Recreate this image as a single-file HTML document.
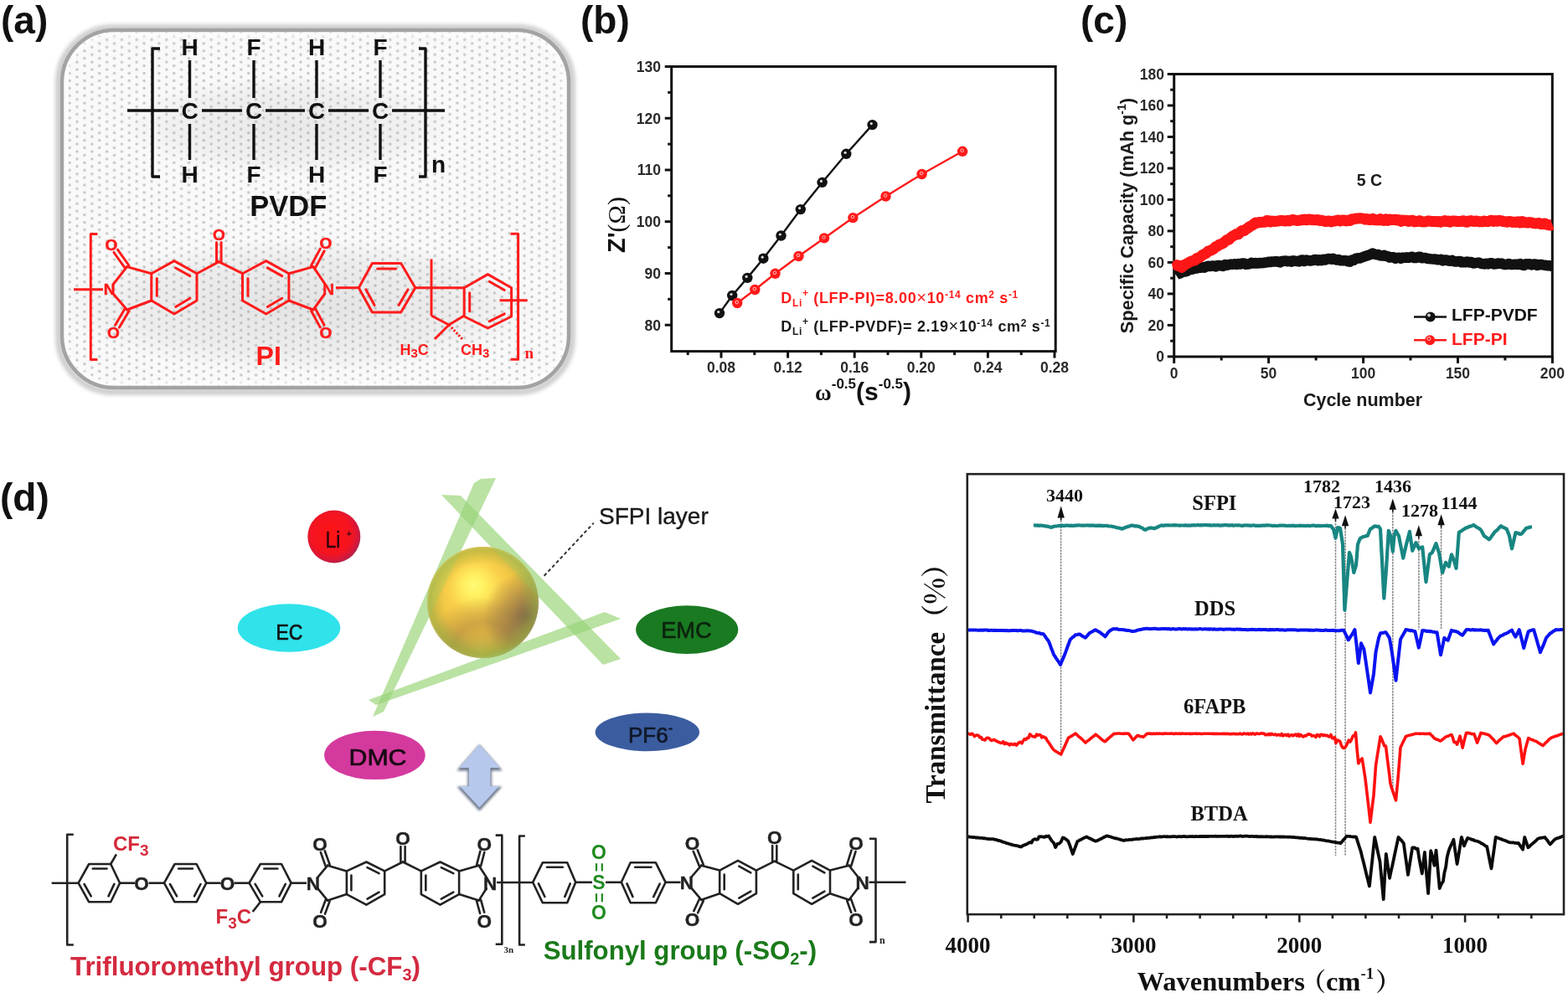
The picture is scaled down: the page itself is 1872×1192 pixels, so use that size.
<!DOCTYPE html>
<html><head><meta charset="utf-8"><title>Figure</title>
<style>html,body{margin:0;padding:0;background:#fff;}svg{display:block;}</style>
</head><body>
<svg width="1872" height="1192" viewBox="0 0 1872 1192">
<defs>
<pattern id="dots" x="1" y="1" width="17.8" height="8.9" patternUnits="userSpaceOnUse">
<rect width="17.8" height="8.9" fill="#f9f9f9"/>
<circle cx="2" cy="2" r="1.7" fill="#c6c6c6"/>
<circle cx="10.9" cy="6.45" r="1.7" fill="#c6c6c6"/>
</pattern>
<radialGradient id="shadeA" cx="0.5" cy="0.5" r="0.5">
<stop offset="0" stop-color="#808080" stop-opacity="0.22"/>
<stop offset="0.7" stop-color="#808080" stop-opacity="0.12"/>
<stop offset="1" stop-color="#808080" stop-opacity="0"/>
</radialGradient>
<filter id="blur2" x="-10%" y="-10%" width="120%" height="120%"><feGaussianBlur stdDeviation="2"/></filter>
<filter id="blur4" x="-20%" y="-20%" width="140%" height="140%"><feGaussianBlur stdDeviation="4"/></filter>
<filter id="blur15" x="-30%" y="-30%" width="160%" height="160%"><feGaussianBlur stdDeviation="1.6"/></filter>
<filter id="blur1"><feGaussianBlur stdDeviation="0.6"/></filter>
<radialGradient id="gold" cx="0.45" cy="0.4" r="0.62" fx="0.42" fy="0.34">
<stop offset="0" stop-color="#fffa78"/>
<stop offset="0.15" stop-color="#fff060"/>
<stop offset="0.38" stop-color="#fad04a"/>
<stop offset="0.62" stop-color="#eec244"/>
<stop offset="0.85" stop-color="#c8b448"/>
<stop offset="1" stop-color="#a8b048"/>
</radialGradient>
<radialGradient id="goldlow" cx="0.5" cy="0.95" r="0.5">
<stop offset="0" stop-color="#a08040" stop-opacity="0.0"/>
<stop offset="0.55" stop-color="#a07a40" stop-opacity="0.45"/>
<stop offset="1" stop-color="#a07a40" stop-opacity="0"/>
</radialGradient>
<radialGradient id="goldshade" cx="0.9" cy="0.62" r="0.4">
<stop offset="0" stop-color="#6a5048" stop-opacity="0.8"/>
<stop offset="0.6" stop-color="#7a5c48" stop-opacity="0.35"/>
<stop offset="1" stop-color="#7a5c48" stop-opacity="0"/>
</radialGradient>
<radialGradient id="goldrim" cx="0.5" cy="0.5" r="0.5">
<stop offset="0.7" stop-color="#98b040" stop-opacity="0"/>
<stop offset="0.95" stop-color="#98b040" stop-opacity="0.5"/>
<stop offset="1" stop-color="#b0c070" stop-opacity="0.4"/>
</radialGradient>
<radialGradient id="liball" cx="0.45" cy="0.45" r="0.55">
<stop offset="0" stop-color="#ff1414"/>
<stop offset="0.7" stop-color="#f41420"/>
<stop offset="0.9" stop-color="#d81838"/>
<stop offset="1" stop-color="#b82048"/>
</radialGradient>
<linearGradient id="arrowg" x1="0" y1="0" x2="1" y2="0">
<stop offset="0" stop-color="#aec4e4"/>
<stop offset="0.5" stop-color="#c4d6ee"/>
<stop offset="1" stop-color="#a8bfe0"/>
</linearGradient>
</defs>

<rect x="0" y="0" width="1872" height="1192" fill="#fff"/>
<text x="1" y="39.7" font-family="'Liberation Sans', Arial, sans-serif" font-size="46" font-weight="bold" fill="#111" text-anchor="start">(a)</text>
<rect x="70" y="33" width="613" height="435" rx="65" fill="none" stroke="#cfcfcf" stroke-width="8" filter="url(#blur2)"/>
<rect x="73.5" y="35.5" width="606" height="428" rx="62" fill="url(#dots)"/>
<ellipse cx="345" cy="150" rx="200" ry="60" fill="url(#shadeA)" opacity="0.6"/>
<ellipse cx="360" cy="365" rx="290" ry="80" fill="url(#shadeA)" opacity="0.8"/>
<rect x="79" y="41" width="594" height="417" rx="56" fill="none" stroke="#ffffff" stroke-opacity="0.55" stroke-width="6"/>
<rect x="74" y="36" width="605" height="427" rx="62" fill="none" stroke="#a3a3a3" stroke-width="4.5"/>
<text x="226.5" y="142" font-family="'Liberation Sans', Arial, sans-serif" font-size="28" font-weight="bold" fill="#111" text-anchor="middle">C</text>
<text x="226.5" y="66" font-family="'Liberation Sans', Arial, sans-serif" font-size="28" font-weight="bold" fill="#111" text-anchor="middle">H</text>
<text x="226.5" y="218" font-family="'Liberation Sans', Arial, sans-serif" font-size="28" font-weight="bold" fill="#111" text-anchor="middle">H</text>
<line x1="226.5" y1="72" x2="226.5" y2="117" stroke="#111" stroke-width="3.4"/>
<line x1="226.5" y1="148" x2="226.5" y2="191" stroke="#111" stroke-width="3.4"/>
<text x="303" y="142" font-family="'Liberation Sans', Arial, sans-serif" font-size="28" font-weight="bold" fill="#111" text-anchor="middle">C</text>
<text x="303" y="66" font-family="'Liberation Sans', Arial, sans-serif" font-size="28" font-weight="bold" fill="#111" text-anchor="middle">F</text>
<text x="303" y="218" font-family="'Liberation Sans', Arial, sans-serif" font-size="28" font-weight="bold" fill="#111" text-anchor="middle">F</text>
<line x1="303" y1="72" x2="303" y2="117" stroke="#111" stroke-width="3.4"/>
<line x1="303" y1="148" x2="303" y2="191" stroke="#111" stroke-width="3.4"/>
<text x="378" y="142" font-family="'Liberation Sans', Arial, sans-serif" font-size="28" font-weight="bold" fill="#111" text-anchor="middle">C</text>
<text x="378" y="66" font-family="'Liberation Sans', Arial, sans-serif" font-size="28" font-weight="bold" fill="#111" text-anchor="middle">H</text>
<text x="378" y="218" font-family="'Liberation Sans', Arial, sans-serif" font-size="28" font-weight="bold" fill="#111" text-anchor="middle">H</text>
<line x1="378" y1="72" x2="378" y2="117" stroke="#111" stroke-width="3.4"/>
<line x1="378" y1="148" x2="378" y2="191" stroke="#111" stroke-width="3.4"/>
<text x="454" y="142" font-family="'Liberation Sans', Arial, sans-serif" font-size="28" font-weight="bold" fill="#111" text-anchor="middle">C</text>
<text x="454" y="66" font-family="'Liberation Sans', Arial, sans-serif" font-size="28" font-weight="bold" fill="#111" text-anchor="middle">F</text>
<text x="454" y="218" font-family="'Liberation Sans', Arial, sans-serif" font-size="28" font-weight="bold" fill="#111" text-anchor="middle">F</text>
<line x1="454" y1="72" x2="454" y2="117" stroke="#111" stroke-width="3.4"/>
<line x1="454" y1="148" x2="454" y2="191" stroke="#111" stroke-width="3.4"/>
<line x1="152" y1="132" x2="213" y2="132" stroke="#111" stroke-width="3.4"/>
<line x1="241" y1="132" x2="289" y2="132" stroke="#111" stroke-width="3.4"/>
<line x1="317" y1="132" x2="364" y2="132" stroke="#111" stroke-width="3.4"/>
<line x1="392" y1="132" x2="440" y2="132" stroke="#111" stroke-width="3.4"/>
<line x1="468" y1="132" x2="531" y2="132" stroke="#111" stroke-width="3.4"/>
<polyline points="191,58 182,58 182,211 191,211" fill="none" stroke="#111" stroke-width="3.4" stroke-linejoin="round"/>
<polyline points="500,58 508,58 508,211 500,211" fill="none" stroke="#111" stroke-width="3.4" stroke-linejoin="round"/>
<text x="515" y="206" font-family="'Liberation Sans', Arial, sans-serif" font-size="28" font-weight="bold" fill="#111" text-anchor="start">n</text>
<text x="344.3" y="258" font-family="'Liberation Sans', Arial, sans-serif" font-size="34.5" font-weight="bold" fill="#111" text-anchor="middle">PVDF</text>
<polyline points="116.4,279.4 108.3,279.4 108.3,429.4 116.4,429.4" fill="none" stroke="#ff1b1b" stroke-width="3.0" stroke-linejoin="round"/>
<line x1="88" y1="345.8" x2="123" y2="345.8" stroke="#ff1b1b" stroke-width="3.0"/>
<text x="130.5" y="352.3" font-family="'Liberation Sans', Arial, sans-serif" font-size="19" font-weight="bold" fill="#ff1b1b" text-anchor="middle" stroke="#ff1b1b" stroke-width="0.5">N</text>
<line x1="135.4" y1="339.2" x2="151.6" y2="318.6" stroke="#ff1b1b" stroke-width="3.0" stroke-linecap="round"/>
<line x1="135.7" y1="351.6" x2="151.6" y2="370" stroke="#ff1b1b" stroke-width="3.0" stroke-linecap="round"/>
<line x1="151.6" y1="318.6" x2="180.8" y2="326.7" stroke="#ff1b1b" stroke-width="3.0" stroke-linecap="round"/>
<line x1="151.6" y1="370" x2="180.8" y2="359" stroke="#ff1b1b" stroke-width="3.0" stroke-linecap="round"/>
<text x="133" y="299.3" font-family="'Liberation Sans', Arial, sans-serif" font-size="19" font-weight="bold" fill="#ff1b1b" text-anchor="middle" stroke="#ff1b1b" stroke-width="0.5">O</text>
<text x="135.5" y="404.3" font-family="'Liberation Sans', Arial, sans-serif" font-size="19" font-weight="bold" fill="#ff1b1b" text-anchor="middle" stroke="#ff1b1b" stroke-width="0.5">O</text>
<line x1="153.9" y1="317" x2="140.5" y2="298.2" stroke="#ff1b1b" stroke-width="3.0" stroke-linecap="round"/>
<line x1="149.3" y1="320.2" x2="135.9" y2="301.5" stroke="#ff1b1b" stroke-width="3.0" stroke-linecap="round"/>
<line x1="149.2" y1="368.6" x2="137.6" y2="388.3" stroke="#ff1b1b" stroke-width="3.0" stroke-linecap="round"/>
<line x1="154" y1="371.4" x2="142.5" y2="391.1" stroke="#ff1b1b" stroke-width="3.0" stroke-linecap="round"/>
<polygon points="180.8,326.7 208,311.6 235,326.7 235,359 208,375 180.8,359" fill="none" stroke="#ff1b1b" stroke-width="3.0" stroke-linejoin="round"/>
<line x1="209.6" y1="320" x2="226.9" y2="329.6" stroke="#ff1b1b" stroke-width="3.0" stroke-linecap="round"/>
<line x1="226.9" y1="356.2" x2="209.7" y2="366.5" stroke="#ff1b1b" stroke-width="3.0" stroke-linecap="round"/>
<line x1="187.3" y1="353.2" x2="187.3" y2="332.5" stroke="#ff1b1b" stroke-width="3.0" stroke-linecap="round"/>
<line x1="235" y1="326.7" x2="261.3" y2="312.6" stroke="#ff1b1b" stroke-width="3.0" stroke-linecap="round"/>
<line x1="261.3" y1="312.6" x2="289.5" y2="326.7" stroke="#ff1b1b" stroke-width="3.0" stroke-linecap="round"/>
<line x1="264.1" y1="312.6" x2="264.1" y2="289.4" stroke="#ff1b1b" stroke-width="3.0" stroke-linecap="round"/>
<line x1="258.5" y1="312.6" x2="258.5" y2="289.4" stroke="#ff1b1b" stroke-width="3.0" stroke-linecap="round"/>
<text x="261.3" y="287.2" font-family="'Liberation Sans', Arial, sans-serif" font-size="19" font-weight="bold" fill="#ff1b1b" text-anchor="middle" stroke="#ff1b1b" stroke-width="0.5">O</text>
<polygon points="289.5,326.7 317.7,311.6 344.9,326.7 344.9,359 317.7,375 289.5,359" fill="none" stroke="#ff1b1b" stroke-width="3.0" stroke-linejoin="round"/>
<line x1="319.3" y1="319.9" x2="336.7" y2="329.6" stroke="#ff1b1b" stroke-width="3.0" stroke-linecap="round"/>
<line x1="336.7" y1="356.3" x2="319.3" y2="366.5" stroke="#ff1b1b" stroke-width="3.0" stroke-linecap="round"/>
<line x1="296" y1="353.2" x2="296" y2="332.5" stroke="#ff1b1b" stroke-width="3.0" stroke-linecap="round"/>
<line x1="344.9" y1="326.7" x2="374" y2="318.6" stroke="#ff1b1b" stroke-width="3.0" stroke-linecap="round"/>
<line x1="344.9" y1="359" x2="374" y2="370" stroke="#ff1b1b" stroke-width="3.0" stroke-linecap="round"/>
<line x1="374" y1="318.6" x2="387.5" y2="338.4" stroke="#ff1b1b" stroke-width="3.0" stroke-linecap="round"/>
<line x1="374" y1="370" x2="387.3" y2="351.5" stroke="#ff1b1b" stroke-width="3.0" stroke-linecap="round"/>
<text x="392" y="351.8" font-family="'Liberation Sans', Arial, sans-serif" font-size="19" font-weight="bold" fill="#ff1b1b" text-anchor="middle" stroke="#ff1b1b" stroke-width="0.5">N</text>
<text x="389" y="297.3" font-family="'Liberation Sans', Arial, sans-serif" font-size="19" font-weight="bold" fill="#ff1b1b" text-anchor="middle" stroke="#ff1b1b" stroke-width="0.5">O</text>
<text x="389" y="404.3" font-family="'Liberation Sans', Arial, sans-serif" font-size="19" font-weight="bold" fill="#ff1b1b" text-anchor="middle" stroke="#ff1b1b" stroke-width="0.5">O</text>
<line x1="376.5" y1="319.9" x2="387.2" y2="299.8" stroke="#ff1b1b" stroke-width="3.0" stroke-linecap="round"/>
<line x1="371.5" y1="317.3" x2="382.3" y2="297.1" stroke="#ff1b1b" stroke-width="3.0" stroke-linecap="round"/>
<line x1="371.5" y1="371.3" x2="382.2" y2="390.9" stroke="#ff1b1b" stroke-width="3.0" stroke-linecap="round"/>
<line x1="376.5" y1="368.7" x2="387.1" y2="388.3" stroke="#ff1b1b" stroke-width="3.0" stroke-linecap="round"/>
<line x1="401" y1="343.7" x2="428.3" y2="343.7" stroke="#ff1b1b" stroke-width="3.0"/>
<polygon points="428.3,343.7 444.4,314.5 478.7,314.5 495.8,343.7 478.7,373 444.4,373" fill="none" stroke="#ff1b1b" stroke-width="3.0" stroke-linejoin="round"/>
<line x1="450.6" y1="321" x2="472.6" y2="321" stroke="#ff1b1b" stroke-width="3.0" stroke-linecap="round"/>
<line x1="487.1" y1="345.7" x2="476.1" y2="364.5" stroke="#ff1b1b" stroke-width="3.0" stroke-linecap="round"/>
<line x1="447.1" y1="364.5" x2="436.8" y2="345.7" stroke="#ff1b1b" stroke-width="3.0" stroke-linecap="round"/>
<line x1="495.8" y1="343.7" x2="554.2" y2="343.7" stroke="#ff1b1b" stroke-width="3.0"/>
<line x1="515" y1="309.5" x2="515" y2="377" stroke="#ff1b1b" stroke-width="3.0"/>
<polyline points="515,377 536,388 554.2,377" fill="none" stroke="#ff1b1b" stroke-width="3.0" stroke-linejoin="round"/>
<polygon points="554.2,343.7 582.4,327.6 610.6,343.7 610.6,378 582.4,392 554.2,378" fill="none" stroke="#ff1b1b" stroke-width="3.0" stroke-linejoin="round"/>
<line x1="584.3" y1="336.2" x2="602.3" y2="346.5" stroke="#ff1b1b" stroke-width="3.0" stroke-linecap="round"/>
<line x1="602.3" y1="374.9" x2="584.2" y2="383.8" stroke="#ff1b1b" stroke-width="3.0" stroke-linecap="round"/>
<line x1="560.7" y1="371.7" x2="560.7" y2="349.8" stroke="#ff1b1b" stroke-width="3.0" stroke-linecap="round"/>
<line x1="596.5" y1="358.8" x2="629.7" y2="358.8" stroke="#ff1b1b" stroke-width="3.0"/>
<line x1="536" y1="388" x2="519" y2="405" stroke="#ff1b1b" stroke-width="3.0"/>
<line x1="536" y1="388" x2="552" y2="405" stroke="#ff1b1b" stroke-width="3" stroke-dasharray="2.2,2"/>
<text x="477.5" y="424" font-family="'Liberation Sans', Arial, sans-serif" font-size="18" font-weight="bold" fill="#ff1b1b">H<tspan font-size="15" dy="3">3</tspan><tspan dy="-3">C</tspan></text>
<text x="550" y="424" font-family="'Liberation Sans', Arial, sans-serif" font-size="18" font-weight="bold" fill="#ff1b1b">CH<tspan font-size="15" dy="3">3</tspan></text>
<polyline points="609.6,279.3 618.6,279.3 618.6,429.3 609.6,429.3" fill="none" stroke="#ff1b1b" stroke-width="3.0" stroke-linejoin="round"/>
<text x="626.5" y="427.5" font-family="'Liberation Serif', 'Times New Roman', serif" font-size="19" font-weight="bold" fill="#ff1b1b" text-anchor="start">n</text>
<text x="320.7" y="436.4" font-family="'Liberation Sans', Arial, sans-serif" font-size="32" font-weight="bold" fill="#ff1b1b" text-anchor="middle">PI</text>
<text x="693" y="39.7" font-family="'Liberation Sans', Arial, sans-serif" font-size="46" font-weight="bold" fill="#111" text-anchor="start">(b)</text>
<rect x="801.7" y="79.5" width="458.5" height="340.1" fill="none" stroke="#111" stroke-width="3"/>
<line x1="793.7" y1="388.2" x2="801.7" y2="388.2" stroke="#111" stroke-width="3"/>
<text x="789" y="394.5" font-family="'Liberation Sans', Arial, sans-serif" font-size="17.5" font-weight="bold" fill="#2a2a2a" text-anchor="end">80</text>
<line x1="793.7" y1="326.5" x2="801.7" y2="326.5" stroke="#111" stroke-width="3"/>
<text x="789" y="332.8" font-family="'Liberation Sans', Arial, sans-serif" font-size="17.5" font-weight="bold" fill="#2a2a2a" text-anchor="end">90</text>
<line x1="793.7" y1="264.7" x2="801.7" y2="264.7" stroke="#111" stroke-width="3"/>
<text x="789" y="271" font-family="'Liberation Sans', Arial, sans-serif" font-size="17.5" font-weight="bold" fill="#2a2a2a" text-anchor="end">100</text>
<line x1="793.7" y1="203" x2="801.7" y2="203" stroke="#111" stroke-width="3"/>
<text x="789" y="209.3" font-family="'Liberation Sans', Arial, sans-serif" font-size="17.5" font-weight="bold" fill="#2a2a2a" text-anchor="end">110</text>
<line x1="793.7" y1="141.2" x2="801.7" y2="141.2" stroke="#111" stroke-width="3"/>
<text x="789" y="147.5" font-family="'Liberation Sans', Arial, sans-serif" font-size="17.5" font-weight="bold" fill="#2a2a2a" text-anchor="end">120</text>
<line x1="793.7" y1="79.5" x2="801.7" y2="79.5" stroke="#111" stroke-width="3"/>
<text x="789" y="85.8" font-family="'Liberation Sans', Arial, sans-serif" font-size="17.5" font-weight="bold" fill="#2a2a2a" text-anchor="end">130</text>
<line x1="797.2" y1="357.3" x2="801.7" y2="357.3" stroke="#111" stroke-width="3"/>
<line x1="797.2" y1="295.6" x2="801.7" y2="295.6" stroke="#111" stroke-width="3"/>
<line x1="797.2" y1="233.8" x2="801.7" y2="233.8" stroke="#111" stroke-width="3"/>
<line x1="797.2" y1="172.1" x2="801.7" y2="172.1" stroke="#111" stroke-width="3"/>
<line x1="797.2" y1="110.4" x2="801.7" y2="110.4" stroke="#111" stroke-width="3"/>
<line x1="861" y1="419.6" x2="861" y2="427.6" stroke="#111" stroke-width="3"/>
<text x="861" y="445" font-family="'Liberation Sans', Arial, sans-serif" font-size="17.5" font-weight="bold" fill="#2a2a2a" text-anchor="middle">0.08</text>
<line x1="940.6" y1="419.6" x2="940.6" y2="427.6" stroke="#111" stroke-width="3"/>
<text x="940.6" y="445" font-family="'Liberation Sans', Arial, sans-serif" font-size="17.5" font-weight="bold" fill="#2a2a2a" text-anchor="middle">0.12</text>
<line x1="1020.2" y1="419.6" x2="1020.2" y2="427.6" stroke="#111" stroke-width="3"/>
<text x="1020.2" y="445" font-family="'Liberation Sans', Arial, sans-serif" font-size="17.5" font-weight="bold" fill="#2a2a2a" text-anchor="middle">0.16</text>
<line x1="1099.8" y1="419.6" x2="1099.8" y2="427.6" stroke="#111" stroke-width="3"/>
<text x="1099.8" y="445" font-family="'Liberation Sans', Arial, sans-serif" font-size="17.5" font-weight="bold" fill="#2a2a2a" text-anchor="middle">0.20</text>
<line x1="1179.4" y1="419.6" x2="1179.4" y2="427.6" stroke="#111" stroke-width="3"/>
<text x="1179.4" y="445" font-family="'Liberation Sans', Arial, sans-serif" font-size="17.5" font-weight="bold" fill="#2a2a2a" text-anchor="middle">0.24</text>
<line x1="1259" y1="419.6" x2="1259" y2="427.6" stroke="#111" stroke-width="3"/>
<text x="1259" y="445" font-family="'Liberation Sans', Arial, sans-serif" font-size="17.5" font-weight="bold" fill="#2a2a2a" text-anchor="middle">0.28</text>
<line x1="821.2" y1="419.6" x2="821.2" y2="424.1" stroke="#111" stroke-width="3"/>
<line x1="900.8" y1="419.6" x2="900.8" y2="424.1" stroke="#111" stroke-width="3"/>
<line x1="980.4" y1="419.6" x2="980.4" y2="424.1" stroke="#111" stroke-width="3"/>
<line x1="1060" y1="419.6" x2="1060" y2="424.1" stroke="#111" stroke-width="3"/>
<line x1="1139.6" y1="419.6" x2="1139.6" y2="424.1" stroke="#111" stroke-width="3"/>
<line x1="1219.2" y1="419.6" x2="1219.2" y2="424.1" stroke="#111" stroke-width="3"/>
<polyline points="859,374.1 874.2,353 892.3,331.9 911.4,308.7 932.5,281.5 955.8,250.1 981.6,217.9 1010.3,183.8 1041.5,149.1" fill="none" stroke="#111" stroke-width="2.4" stroke-linejoin="round"/>
<polyline points="880.2,362 901.3,346 925.5,326.8 953.5,306 984,284.4 1018.4,260.1 1057.5,234.5 1100.6,208 1149.1,180.8" fill="none" stroke="#ff1a1a" stroke-width="2.4" stroke-linejoin="round"/>
<circle cx="859" cy="374.1" r="6.2" fill="#111"/>
<circle cx="857.8" cy="372.6" r="1.6" fill="#ddd"/>
<circle cx="874.2" cy="353" r="6.2" fill="#111"/>
<circle cx="873" cy="351.5" r="1.6" fill="#ddd"/>
<circle cx="892.3" cy="331.9" r="6.2" fill="#111"/>
<circle cx="891.1" cy="330.4" r="1.6" fill="#ddd"/>
<circle cx="911.4" cy="308.7" r="6.2" fill="#111"/>
<circle cx="910.2" cy="307.2" r="1.6" fill="#ddd"/>
<circle cx="932.5" cy="281.5" r="6.2" fill="#111"/>
<circle cx="931.3" cy="280" r="1.6" fill="#ddd"/>
<circle cx="955.8" cy="250.1" r="6.2" fill="#111"/>
<circle cx="954.6" cy="248.6" r="1.6" fill="#ddd"/>
<circle cx="981.6" cy="217.9" r="6.2" fill="#111"/>
<circle cx="980.4" cy="216.4" r="1.6" fill="#ddd"/>
<circle cx="1010.3" cy="183.8" r="6.2" fill="#111"/>
<circle cx="1009.1" cy="182.3" r="1.6" fill="#ddd"/>
<circle cx="1041.5" cy="149.1" r="6.2" fill="#111"/>
<circle cx="1040.3" cy="147.6" r="1.6" fill="#ddd"/>
<circle cx="880.2" cy="362" r="6.2" fill="#ff1a1a"/>
<circle cx="879.7" cy="361" r="1.8" fill="none" stroke="#ffc0c0" stroke-width="1"/>
<circle cx="901.3" cy="346" r="6.2" fill="#ff1a1a"/>
<circle cx="900.8" cy="345" r="1.8" fill="none" stroke="#ffc0c0" stroke-width="1"/>
<circle cx="925.5" cy="326.8" r="6.2" fill="#ff1a1a"/>
<circle cx="925" cy="325.8" r="1.8" fill="none" stroke="#ffc0c0" stroke-width="1"/>
<circle cx="953.5" cy="306" r="6.2" fill="#ff1a1a"/>
<circle cx="953" cy="305" r="1.8" fill="none" stroke="#ffc0c0" stroke-width="1"/>
<circle cx="984" cy="284.4" r="6.2" fill="#ff1a1a"/>
<circle cx="983.5" cy="283.4" r="1.8" fill="none" stroke="#ffc0c0" stroke-width="1"/>
<circle cx="1018.4" cy="260.1" r="6.2" fill="#ff1a1a"/>
<circle cx="1017.9" cy="259.1" r="1.8" fill="none" stroke="#ffc0c0" stroke-width="1"/>
<circle cx="1057.5" cy="234.5" r="6.2" fill="#ff1a1a"/>
<circle cx="1057" cy="233.5" r="1.8" fill="none" stroke="#ffc0c0" stroke-width="1"/>
<circle cx="1100.6" cy="208" r="6.2" fill="#ff1a1a"/>
<circle cx="1100.1" cy="207" r="1.8" fill="none" stroke="#ffc0c0" stroke-width="1"/>
<circle cx="1149.1" cy="180.8" r="6.2" fill="#ff1a1a"/>
<circle cx="1148.6" cy="179.8" r="1.8" fill="none" stroke="#ffc0c0" stroke-width="1"/>
<text x="932.3" y="361.7" font-family="'Liberation Sans', Arial, sans-serif" font-size="18" font-weight="bold" fill="#ff1a1a" textLength="283" lengthAdjust="spacing">D<tspan font-size="12" dy="4">Li</tspan><tspan font-size="12" dy="-12">+</tspan><tspan dy="8"> (LFP-PI)=8.00</tspan><tspan font-weight="normal" font-size="20">×</tspan>10<tspan font-size="12" dy="-6">-14</tspan><tspan dy="6"> cm</tspan><tspan font-size="12" dy="-6">2</tspan><tspan dy="6"> s</tspan><tspan font-size="12" dy="-6">-1</tspan></text>
<text x="932.3" y="396.2" font-family="'Liberation Sans', Arial, sans-serif" font-size="18" font-weight="bold" fill="#1a1a1a" textLength="321.5" lengthAdjust="spacing">D<tspan font-size="12" dy="4">Li</tspan><tspan font-size="12" dy="-12">+</tspan><tspan dy="8"> (LFP-PVDF)= 2.19</tspan><tspan font-weight="normal" font-size="20">×</tspan>10<tspan font-size="12" dy="-6">-14</tspan><tspan dy="6"> cm</tspan><tspan font-size="12" dy="-6">2</tspan><tspan dy="6"> s</tspan><tspan font-size="12" dy="-6">-1</tspan></text>
<text transform="translate(746,302) rotate(-90)" font-family="'Liberation Sans', Arial, sans-serif" font-size="29" font-weight="bold" fill="#111">Z'<tspan font-family="'Liberation Serif', 'Times New Roman', serif" font-weight="normal" font-size="30">(Ω)</tspan></text>
<text x="973" y="478.3" font-family="'Liberation Sans', Arial, sans-serif" font-size="30" font-weight="bold" fill="#111"><tspan font-family="'Liberation Serif', 'Times New Roman', serif" font-size="27">ω</tspan><tspan font-size="17" dy="-14">-0.5</tspan><tspan dy="14">(s</tspan><tspan font-size="17" dy="-14">-0.5</tspan><tspan dy="14">)</tspan></text>
<text x="1290" y="39.7" font-family="'Liberation Sans', Arial, sans-serif" font-size="46" font-weight="bold" fill="#111" text-anchor="start">(c)</text>
<rect x="1401.7" y="88.5" width="451.6" height="337.5" fill="none" stroke="#111" stroke-width="3"/>
<line x1="1393.7" y1="425.9" x2="1401.7" y2="425.9" stroke="#111" stroke-width="3"/>
<text x="1390" y="432.2" font-family="'Liberation Sans', Arial, sans-serif" font-size="17.5" font-weight="bold" fill="#2a2a2a" text-anchor="end">0</text>
<line x1="1393.7" y1="388.4" x2="1401.7" y2="388.4" stroke="#111" stroke-width="3"/>
<text x="1390" y="394.7" font-family="'Liberation Sans', Arial, sans-serif" font-size="17.5" font-weight="bold" fill="#2a2a2a" text-anchor="end">20</text>
<line x1="1393.7" y1="350.9" x2="1401.7" y2="350.9" stroke="#111" stroke-width="3"/>
<text x="1390" y="357.2" font-family="'Liberation Sans', Arial, sans-serif" font-size="17.5" font-weight="bold" fill="#2a2a2a" text-anchor="end">40</text>
<line x1="1393.7" y1="313.4" x2="1401.7" y2="313.4" stroke="#111" stroke-width="3"/>
<text x="1390" y="319.7" font-family="'Liberation Sans', Arial, sans-serif" font-size="17.5" font-weight="bold" fill="#2a2a2a" text-anchor="end">60</text>
<line x1="1393.7" y1="275.9" x2="1401.7" y2="275.9" stroke="#111" stroke-width="3"/>
<text x="1390" y="282.2" font-family="'Liberation Sans', Arial, sans-serif" font-size="17.5" font-weight="bold" fill="#2a2a2a" text-anchor="end">80</text>
<line x1="1393.7" y1="238.4" x2="1401.7" y2="238.4" stroke="#111" stroke-width="3"/>
<text x="1390" y="244.7" font-family="'Liberation Sans', Arial, sans-serif" font-size="17.5" font-weight="bold" fill="#2a2a2a" text-anchor="end">100</text>
<line x1="1393.7" y1="201" x2="1401.7" y2="201" stroke="#111" stroke-width="3"/>
<text x="1390" y="207.3" font-family="'Liberation Sans', Arial, sans-serif" font-size="17.5" font-weight="bold" fill="#2a2a2a" text-anchor="end">120</text>
<line x1="1393.7" y1="163.5" x2="1401.7" y2="163.5" stroke="#111" stroke-width="3"/>
<text x="1390" y="169.8" font-family="'Liberation Sans', Arial, sans-serif" font-size="17.5" font-weight="bold" fill="#2a2a2a" text-anchor="end">140</text>
<line x1="1393.7" y1="126" x2="1401.7" y2="126" stroke="#111" stroke-width="3"/>
<text x="1390" y="132.3" font-family="'Liberation Sans', Arial, sans-serif" font-size="17.5" font-weight="bold" fill="#2a2a2a" text-anchor="end">160</text>
<line x1="1393.7" y1="88.5" x2="1401.7" y2="88.5" stroke="#111" stroke-width="3"/>
<text x="1390" y="94.8" font-family="'Liberation Sans', Arial, sans-serif" font-size="17.5" font-weight="bold" fill="#2a2a2a" text-anchor="end">180</text>
<line x1="1397.2" y1="407.2" x2="1401.7" y2="407.2" stroke="#111" stroke-width="3"/>
<line x1="1397.2" y1="369.7" x2="1401.7" y2="369.7" stroke="#111" stroke-width="3"/>
<line x1="1397.2" y1="332.2" x2="1401.7" y2="332.2" stroke="#111" stroke-width="3"/>
<line x1="1397.2" y1="294.7" x2="1401.7" y2="294.7" stroke="#111" stroke-width="3"/>
<line x1="1397.2" y1="257.2" x2="1401.7" y2="257.2" stroke="#111" stroke-width="3"/>
<line x1="1397.2" y1="219.7" x2="1401.7" y2="219.7" stroke="#111" stroke-width="3"/>
<line x1="1397.2" y1="182.2" x2="1401.7" y2="182.2" stroke="#111" stroke-width="3"/>
<line x1="1397.2" y1="144.7" x2="1401.7" y2="144.7" stroke="#111" stroke-width="3"/>
<line x1="1397.2" y1="107.2" x2="1401.7" y2="107.2" stroke="#111" stroke-width="3"/>
<line x1="1401.7" y1="426" x2="1401.7" y2="434" stroke="#111" stroke-width="3"/>
<text x="1401.7" y="452" font-family="'Liberation Sans', Arial, sans-serif" font-size="17.5" font-weight="bold" fill="#2a2a2a" text-anchor="middle">0</text>
<line x1="1514.6" y1="426" x2="1514.6" y2="434" stroke="#111" stroke-width="3"/>
<text x="1514.6" y="452" font-family="'Liberation Sans', Arial, sans-serif" font-size="17.5" font-weight="bold" fill="#2a2a2a" text-anchor="middle">50</text>
<line x1="1627.6" y1="426" x2="1627.6" y2="434" stroke="#111" stroke-width="3"/>
<text x="1627.6" y="452" font-family="'Liberation Sans', Arial, sans-serif" font-size="17.5" font-weight="bold" fill="#2a2a2a" text-anchor="middle">100</text>
<line x1="1740.5" y1="426" x2="1740.5" y2="434" stroke="#111" stroke-width="3"/>
<text x="1740.5" y="452" font-family="'Liberation Sans', Arial, sans-serif" font-size="17.5" font-weight="bold" fill="#2a2a2a" text-anchor="middle">150</text>
<line x1="1853.4" y1="426" x2="1853.4" y2="434" stroke="#111" stroke-width="3"/>
<text x="1853.4" y="452" font-family="'Liberation Sans', Arial, sans-serif" font-size="17.5" font-weight="bold" fill="#2a2a2a" text-anchor="middle">200</text>
<line x1="1458.2" y1="426" x2="1458.2" y2="430.5" stroke="#111" stroke-width="3"/>
<line x1="1571.1" y1="426" x2="1571.1" y2="430.5" stroke="#111" stroke-width="3"/>
<line x1="1684" y1="426" x2="1684" y2="430.5" stroke="#111" stroke-width="3"/>
<line x1="1796.9" y1="426" x2="1796.9" y2="430.5" stroke="#111" stroke-width="3"/>
<path d="M1404,328.7 L1406.2,327.2 L1408.5,326.7 L1410.7,325.4 L1413,324.4 L1415.3,324.5 L1417.5,323.6 L1419.8,321 L1422,321.8 L1424.3,321.5 L1426.5,319.8 L1428.8,320.4 L1431.1,319.4 L1433.3,319.8 L1435.6,319.2 L1437.8,319.7 L1440.1,318.5 L1442.4,317.8 L1444.6,318.1 L1446.9,317.5 L1449.1,317.5 L1451.4,318.4 L1453.6,317 L1455.9,317.1 L1458.2,317.5 L1460.4,317.9 L1462.7,316.1 L1464.9,316.7 L1467.2,316.1 L1469.5,315.6 L1471.7,315.8 L1474,315.2 L1476.2,316 L1478.5,315.1 L1480.7,315.6 L1483,314.5 L1485.3,314.5 L1487.5,315.8 L1489.8,315.6 L1492,315.2 L1494.3,313.7 L1496.6,314.6 L1498.8,314.1 L1501.1,314.6 L1503.3,314.1 L1505.6,314.2 L1507.8,314.1 L1510.1,313.6 L1512.4,313.4 L1514.6,312.7 L1516.9,313 L1519.1,312.4 L1521.4,312.5 L1523.7,312.1 L1525.9,312.6 L1528.2,313.4 L1530.4,312 L1532.7,311.7 L1535,311.6 L1537.2,312.2 L1539.5,311.8 L1541.7,312.6 L1544,311.3 L1546.2,311.7 L1548.5,312.1 L1550.8,312.4 L1553,310.8 L1555.3,310.5 L1557.5,312 L1559.8,310.6 L1562.1,311.2 L1564.3,311.6 L1566.6,311.2 L1568.8,310.2 L1571.1,309.9 L1573.3,311.3 L1575.6,310.2 L1577.9,311.1 L1580.1,309.7 L1582.4,310.4 L1584.6,309.2 L1586.9,308.9 L1589.2,309.7 L1591.4,308.7 L1593.7,309.9 L1595.9,310.6 L1598.2,309.9 L1600.4,311.3 L1602.7,311.3 L1605,311.2 L1607.2,311.2 L1609.5,312.3 L1611.7,312.7 L1614,310.4 L1616.3,310.8 L1618.5,308.9 L1620.8,308.3 L1623,308.6 L1625.3,307.7 L1627.6,306.9 L1629.8,306 L1632.1,305.4 L1634.3,304.6 L1636.6,303.7 L1638.8,302.6 L1641.1,303.7 L1643.4,304.2 L1645.6,304.1 L1647.9,305.4 L1650.1,305.6 L1652.4,304.7 L1654.7,305.9 L1656.9,306.2 L1659.2,307.6 L1661.4,307.2 L1663.7,307.3 L1665.9,308.7 L1668.2,308 L1670.5,307.8 L1672.7,308.8 L1675,307.6 L1677.2,307.8 L1679.5,307.3 L1681.8,307.8 L1684,307 L1686.3,306.8 L1688.5,308.1 L1690.8,307.9 L1693,307 L1695.3,306.7 L1697.6,308.3 L1699.8,308.1 L1702.1,308.1 L1704.3,308.9 L1706.6,309.1 L1708.9,309.4 L1711.1,309.6 L1713.4,309.4 L1715.6,310.2 L1717.9,310.3 L1720.1,309.8 L1722.4,311.4 L1724.7,310.5 L1726.9,310.4 L1729.2,311.4 L1731.4,311.8 L1733.7,310.9 L1736,312.2 L1738.2,312.5 L1740.5,312.2 L1742.7,311.9 L1745,313.3 L1747.3,313 L1749.5,313.2 L1751.8,312.5 L1754,313.4 L1756.3,312.9 L1758.5,314.4 L1760.8,314.2 L1763.1,313.9 L1765.3,313.6 L1767.6,314.6 L1769.8,315.1 L1772.1,315.4 L1774.4,314.7 L1776.6,315.4 L1778.9,314.3 L1781.1,314.3 L1783.4,315.6 L1785.6,315.4 L1787.9,314.5 L1790.2,314.9 L1792.4,314.6 L1794.7,315.6 L1796.9,316 L1799.2,315.8 L1801.5,314.9 L1803.7,315.9 L1806,315.9 L1808.2,315.8 L1810.5,315.8 L1812.7,315.9 L1815,315 L1817.3,316.5 L1819.5,316.9 L1821.8,315.2 L1824,315.4 L1826.3,315.2 L1828.6,316.4 L1830.8,315.5 L1833.1,315.6 L1835.3,317 L1837.6,316.1 L1839.8,316 L1842.1,316.4 L1844.4,316.7 L1846.6,317.2 L1848.9,317.2 L1851.1,317.5 L1853.4,317.8" fill="none" stroke="#111" stroke-width="12.5" stroke-linejoin="round" stroke-linecap="butt"/>
<path d="M1404,315.7 L1406.2,317.5 L1408.5,317.7 L1410.7,319.5 L1413,316.7 L1415.3,316 L1417.5,314.5 L1419.8,313.4 L1422,312.1 L1424.3,311.4 L1426.5,311.1 L1428.8,308.4 L1431.1,308.1 L1433.3,306.6 L1435.6,304.6 L1437.8,303.5 L1440.1,302.4 L1442.4,300.1 L1444.6,299.3 L1446.9,298.5 L1449.1,297.2 L1451.4,294.7 L1453.6,294 L1455.9,292.1 L1458.2,291.5 L1460.4,290.4 L1462.7,288.4 L1464.9,286.5 L1467.2,286.3 L1469.5,283.7 L1471.7,282.1 L1474,280.9 L1476.2,279.5 L1478.5,279.7 L1480.7,277.2 L1483,275.4 L1485.3,275.6 L1487.5,273.8 L1489.8,272.4 L1492,270.6 L1494.3,269.5 L1496.6,268 L1498.8,266.1 L1501.1,266.2 L1503.3,265.6 L1505.6,265.4 L1507.8,265.3 L1510.1,265.3 L1512.4,263.5 L1514.6,263.7 L1516.9,265 L1519.1,264.1 L1521.4,264.4 L1523.7,264.2 L1525.9,264.1 L1528.2,263.4 L1530.4,263.4 L1532.7,263.7 L1535,263.9 L1537.2,263.5 L1539.5,263.8 L1541.7,262.8 L1544,262.4 L1546.2,263 L1548.5,263.5 L1550.8,263.3 L1553,262.9 L1555.3,262.5 L1557.5,262.1 L1559.8,262.8 L1562.1,262 L1564.3,262.3 L1566.6,262.6 L1568.8,262.7 L1571.1,262.7 L1573.3,262.6 L1575.6,263.4 L1577.9,263.2 L1580.1,263.9 L1582.4,264.6 L1584.6,264.2 L1586.9,263.9 L1589.2,264.9 L1591.4,264.2 L1593.7,264.1 L1595.9,263.2 L1598.2,263 L1600.4,264 L1602.7,262.9 L1605,263.1 L1607.2,263.9 L1609.5,263.1 L1611.7,263.5 L1614,261.8 L1616.3,261.8 L1618.5,261.1 L1620.8,260.9 L1623,260.8 L1625.3,260.8 L1627.6,261.2 L1629.8,262.2 L1632.1,261.4 L1634.3,262.6 L1636.6,262.4 L1638.8,261.3 L1641.1,262.8 L1643.4,262.8 L1645.6,262.9 L1647.9,261.6 L1650.1,263 L1652.4,263.4 L1654.7,261.9 L1656.9,263.4 L1659.2,262.1 L1661.4,262.6 L1663.7,262.4 L1665.9,262.2 L1668.2,263 L1670.5,262.7 L1672.7,264.3 L1675,263 L1677.2,263.6 L1679.5,263.3 L1681.8,264.5 L1684,263.4 L1686.3,263.2 L1688.5,264.9 L1690.8,264.5 L1693,264.2 L1695.3,263.7 L1697.6,264.8 L1699.8,264.9 L1702.1,264.8 L1704.3,264.1 L1706.6,263.9 L1708.9,264.6 L1711.1,264.6 L1713.4,264.6 L1715.6,264.7 L1717.9,264.6 L1720.1,265.2 L1722.4,264.4 L1724.7,263.6 L1726.9,264.6 L1729.2,264 L1731.4,265.1 L1733.7,264.1 L1736,264 L1738.2,264.2 L1740.5,264.5 L1742.7,264.5 L1745,264.2 L1747.3,263.7 L1749.5,265.1 L1751.8,265.2 L1754,263.9 L1756.3,263.6 L1758.5,264.3 L1760.8,264.4 L1763.1,263.9 L1765.3,264.8 L1767.6,264.7 L1769.8,264.8 L1772.1,264 L1774.4,264.5 L1776.6,264.6 L1778.9,263.7 L1781.1,263.2 L1783.4,264.4 L1785.6,263.6 L1787.9,264.2 L1790.2,263.3 L1792.4,263.8 L1794.7,264.5 L1796.9,264.7 L1799.2,265.2 L1801.5,264.5 L1803.7,264.8 L1806,265.4 L1808.2,265.2 L1810.5,265.4 L1812.7,264.7 L1815,266 L1817.3,264.5 L1819.5,265.7 L1821.8,265.7 L1824,266.1 L1826.3,265.6 L1828.6,265.9 L1830.8,266.6 L1833.1,266.9 L1835.3,266.7 L1837.6,266.6 L1839.8,267.7 L1842.1,267.3 L1844.4,267 L1846.6,268.2 L1848.9,268.8 L1851.1,269 L1853.4,268.2" fill="none" stroke="#ff1717" stroke-width="13" stroke-linejoin="round" stroke-linecap="butt"/>
<circle cx="1405.1" cy="315.9" r="6" fill="#ff1717"/>
<text x="1635" y="221.5" font-family="'Liberation Sans', Arial, sans-serif" font-size="19.5" font-weight="bold" fill="#1a1a1a" text-anchor="middle">5 C</text>
<line x1="1688" y1="378.5" x2="1727" y2="378.5" stroke="#111" stroke-width="2.5"/>
<circle cx="1707.7" cy="378.5" r="6" fill="#111"/><circle cx="1706" cy="376.5" r="2" fill="#ccc"/>
<text x="1733" y="383.4" font-family="'Liberation Sans', Arial, sans-serif" font-size="21" font-weight="bold" fill="#111" text-anchor="start">LFP-PVDF</text>
<line x1="1688" y1="406.3" x2="1727" y2="406.3" stroke="#ff1a1a" stroke-width="2.5"/>
<circle cx="1707.2" cy="406.3" r="6" fill="#ff1a1a"/><circle cx="1706" cy="404.5" r="2" fill="none" stroke="#ffc8c8" stroke-width="1"/>
<text x="1733" y="411.5" font-family="'Liberation Sans', Arial, sans-serif" font-size="21" font-weight="bold" fill="#ff1a1a" text-anchor="start">LFP-PI</text>
<text x="1627" y="484.5" font-family="'Liberation Sans', Arial, sans-serif" font-size="21.5" font-weight="bold" fill="#1a1a1a" text-anchor="middle">Cycle number</text>
<text transform="translate(1353.4,398.3) rotate(-90)" font-family="'Liberation Sans', Arial, sans-serif" font-size="21.8" font-weight="bold" fill="#1a1a1a">Specific Capacity (mAh g<tspan font-size="14" dy="-9">-1</tspan><tspan dy="9">)</tspan></text>
<text x="0" y="610.3" font-family="'Liberation Sans', Arial, sans-serif" font-size="46" font-weight="bold" fill="#111" text-anchor="start">(d)</text>
<g fill="#a4da84" fill-opacity="0.62">
<polygon points="566,577 574,572 592,571 458,850 445,856"/>
<polygon points="527,591 550,592 741,787 720,794"/>
<polygon points="440,836 722,731 741,739 449,842"/>
</g>
<circle cx="576.5" cy="719.5" r="66.5" fill="url(#gold)"/>
<circle cx="576.5" cy="719.5" r="66.5" fill="url(#goldlow)"/>
<circle cx="576.5" cy="719.5" r="66.5" fill="url(#goldshade)"/>
<circle cx="576.5" cy="719.5" r="66.5" fill="url(#goldrim)"/>
<g fill="#8ccf6c" fill-opacity="0.22">
<polygon points="566,577 574,572 592,571 458,850 445,856"/>
<polygon points="527,591 550,592 741,787 720,794"/>
<polygon points="440,836 722,731 741,739 449,842"/>
</g>
<line x1="649.7" y1="687.7" x2="708.8" y2="624.6" stroke="#333" stroke-width="2" stroke-dasharray="4,3"/>
<text x="715" y="626" font-family="'Liberation Sans', Arial, sans-serif" font-size="28" font-weight="normal" fill="#1a1a1a" text-anchor="start" stroke="#1a1a1a" stroke-width="0.4">SFPI layer</text>
<circle cx="398.8" cy="641" r="31.5" fill="url(#liball)"/>
<text x="388.5" y="654.3" font-family="'Liberation Sans', Arial, sans-serif" font-size="28" fill="#2a0610" stroke="#2a0610" stroke-width="0.4" textLength="18" lengthAdjust="spacingAndGlyphs">Li</text>
<text x="413.5" y="640.5" font-family="'Liberation Sans', Arial, sans-serif" font-size="11" font-weight="bold" fill="#4a0818">+</text>
<ellipse cx="345" cy="750" rx="61.3" ry="28.8" fill="#30e2ea"/>
<text x="329.5" y="763.6" font-family="'Liberation Sans', Arial, sans-serif" font-size="26" fill="#111" stroke="#111" stroke-width="0.7" textLength="32" lengthAdjust="spacingAndGlyphs">EC</text>
<ellipse cx="820.2" cy="752.1" rx="61.1" ry="28.9" fill="#1a7a22"/>
<text x="789.2" y="761.6" font-family="'Liberation Sans', Arial, sans-serif" font-size="27" fill="#0c240e" stroke="#0c240e" stroke-width="0.7" textLength="60.5" lengthAdjust="spacingAndGlyphs">EMC</text>
<ellipse cx="447.4" cy="901.9" rx="60.3" ry="29.2" fill="#d43a9e"/>
<text x="416.5" y="914" font-family="'Liberation Sans', Arial, sans-serif" font-size="28" fill="#1a0a14" stroke="#1a0a14" stroke-width="0.7" textLength="69" lengthAdjust="spacingAndGlyphs">DMC</text>
<ellipse cx="772.8" cy="874.4" rx="62.2" ry="22.9" fill="#3b5da0"/>
<text x="750" y="886.8" font-family="'Liberation Sans', Arial, sans-serif" font-size="26" fill="#101828" stroke="#101828" stroke-width="0.7">PF6<tspan font-size="16" dy="-12">-</tspan></text>
<polygon points="572.4,889.5 596.5,917 585.4,917 585.4,939 596,939 572.4,964.5 548.8,939 559.8,939 559.8,917 548.5,917" fill="#56647c" stroke="#4a5870" stroke-width="3" opacity="0.8" filter="url(#blur15)" transform="translate(0,2)"/>
<polygon points="572.4,889.5 596.5,917 585.4,917 585.4,939 596,939 572.4,964.5 548.8,939 559.8,939 559.8,917 548.5,917" fill="#b6c8ec"/>
<line x1="61.7" y1="1054.7" x2="93.6" y2="1054.7" stroke="#222" stroke-width="2.6"/>
<polyline points="87.8,996.8 80.2,996.8 80.2,1128.5 87.8,1128.5" fill="none" stroke="#222" stroke-width="2.6" stroke-linejoin="round"/>
<polygon points="93.6,1054.7 106.2,1032 132.2,1032 143.1,1054.7 132.2,1077.3 106.2,1077.3" fill="none" stroke="#222" stroke-width="2.6" stroke-linejoin="round"/>
<line x1="110.8" y1="1037.5" x2="127.5" y2="1037.5" stroke="#222" stroke-width="2.6" stroke-linecap="round"/>
<line x1="136.4" y1="1055.9" x2="129.5" y2="1070.4" stroke="#222" stroke-width="2.6" stroke-linecap="round"/>
<line x1="108.7" y1="1070.4" x2="100.6" y2="1056" stroke="#222" stroke-width="2.6" stroke-linecap="round"/>
<line x1="132.2" y1="1032" x2="138.9" y2="1020.3" stroke="#222" stroke-width="2.6"/>
<text x="135" y="1016" font-family="'Liberation Sans', Arial, sans-serif" font-size="24" font-weight="bold" fill="#d42a3a">CF<tspan font-size="19" dy="6">3</tspan></text>
<line x1="143.1" y1="1054.7" x2="161" y2="1054.7" stroke="#222" stroke-width="2.6"/>
<text x="169.1" y="1062.6" font-family="'Liberation Sans', Arial, sans-serif" font-size="22.5" font-weight="bold" fill="#222" text-anchor="middle" stroke="#222" stroke-width="0.4">O</text>
<line x1="177.5" y1="1054.7" x2="196" y2="1054.7" stroke="#222" stroke-width="2.6"/>
<polygon points="196,1054.7 208.6,1032 234.6,1032 246.3,1054.7 234.6,1077.3 208.6,1077.3" fill="none" stroke="#222" stroke-width="2.6" stroke-linejoin="round"/>
<line x1="213.2" y1="1037.5" x2="229.9" y2="1037.5" stroke="#222" stroke-width="2.6" stroke-linecap="round"/>
<line x1="239.5" y1="1056" x2="232" y2="1070.4" stroke="#222" stroke-width="2.6" stroke-linecap="round"/>
<line x1="211.1" y1="1070.4" x2="203" y2="1056" stroke="#222" stroke-width="2.6" stroke-linecap="round"/>
<line x1="246.3" y1="1054.7" x2="263.5" y2="1054.7" stroke="#222" stroke-width="2.6"/>
<text x="271.5" y="1062.6" font-family="'Liberation Sans', Arial, sans-serif" font-size="22.5" font-weight="bold" fill="#222" text-anchor="middle" stroke="#222" stroke-width="0.4">O</text>
<line x1="279.5" y1="1054.7" x2="297.5" y2="1054.7" stroke="#222" stroke-width="2.6"/>
<polygon points="297.5,1054.7 310.9,1032 336,1032 347.6,1054.7 336,1077.3 310.9,1077.3" fill="none" stroke="#222" stroke-width="2.6" stroke-linejoin="round"/>
<line x1="315.3" y1="1037.5" x2="331.4" y2="1037.5" stroke="#222" stroke-width="2.6" stroke-linecap="round"/>
<line x1="340.8" y1="1055.9" x2="333.4" y2="1070.4" stroke="#222" stroke-width="2.6" stroke-linecap="round"/>
<line x1="313.2" y1="1070.4" x2="304.6" y2="1055.9" stroke="#222" stroke-width="2.6" stroke-linecap="round"/>
<line x1="310.9" y1="1077.3" x2="301.7" y2="1089" stroke="#222" stroke-width="2.6"/>
<text x="257.5" y="1103.3" font-family="'Liberation Sans', Arial, sans-serif" font-size="24" font-weight="bold" fill="#d42a3a">F<tspan font-size="19" dy="6">3</tspan><tspan dy="-6">C</tspan></text>
<line x1="347.6" y1="1054.7" x2="366" y2="1054.7" stroke="#222" stroke-width="2.6"/>
<text x="373.8" y="1062.6" font-family="'Liberation Sans', Arial, sans-serif" font-size="22.5" font-weight="bold" fill="#222" text-anchor="middle" stroke="#222" stroke-width="0.4">N</text>
<line x1="378.9" y1="1048.4" x2="391.2" y2="1033.7" stroke="#222" stroke-width="2.6" stroke-linecap="round"/>
<line x1="378.9" y1="1060.7" x2="391.2" y2="1075.6" stroke="#222" stroke-width="2.6" stroke-linecap="round"/>
<line x1="391.2" y1="1033.7" x2="413.9" y2="1040.4" stroke="#222" stroke-width="2.6" stroke-linecap="round"/>
<line x1="391.2" y1="1075.6" x2="413.9" y2="1068.1" stroke="#222" stroke-width="2.6" stroke-linecap="round"/>
<text x="382" y="1015.8" font-family="'Liberation Sans', Arial, sans-serif" font-size="22.5" font-weight="bold" fill="#222" text-anchor="middle" stroke="#222" stroke-width="0.4">O</text>
<text x="382" y="1108.1" font-family="'Liberation Sans', Arial, sans-serif" font-size="22.5" font-weight="bold" fill="#222" text-anchor="middle" stroke="#222" stroke-width="0.4">O</text>
<line x1="393.7" y1="1032.8" x2="387.8" y2="1016.3" stroke="#222" stroke-width="2.6" stroke-linecap="round"/>
<line x1="388.7" y1="1034.6" x2="382.9" y2="1018" stroke="#222" stroke-width="2.6" stroke-linecap="round"/>
<line x1="388.8" y1="1074.7" x2="383.1" y2="1089.7" stroke="#222" stroke-width="2.6" stroke-linecap="round"/>
<line x1="393.6" y1="1076.5" x2="388" y2="1091.6" stroke="#222" stroke-width="2.6" stroke-linecap="round"/>
<polygon points="413.9,1040.4 437.4,1029.5 459.2,1040.4 459.2,1068.1 437.4,1080.7 413.9,1068.1" fill="none" stroke="#222" stroke-width="2.6" stroke-linejoin="round"/>
<line x1="438.5" y1="1036.2" x2="452.5" y2="1043.2" stroke="#222" stroke-width="2.6" stroke-linecap="round"/>
<line x1="452.5" y1="1065.6" x2="438.6" y2="1073.7" stroke="#222" stroke-width="2.6" stroke-linecap="round"/>
<line x1="419.4" y1="1063.2" x2="419.4" y2="1045.5" stroke="#222" stroke-width="2.6" stroke-linecap="round"/>
<line x1="459.2" y1="1040.4" x2="481" y2="1029.5" stroke="#222" stroke-width="2.6" stroke-linecap="round"/>
<line x1="483.6" y1="1029.5" x2="483.6" y2="1011" stroke="#222" stroke-width="2.6" stroke-linecap="round"/>
<line x1="478.4" y1="1029.5" x2="478.4" y2="1011" stroke="#222" stroke-width="2.6" stroke-linecap="round"/>
<text x="481" y="1009.1" font-family="'Liberation Sans', Arial, sans-serif" font-size="22.5" font-weight="bold" fill="#222" text-anchor="middle" stroke="#222" stroke-width="0.4">O</text>
<line x1="481" y1="1029.5" x2="502.8" y2="1040.4" stroke="#222" stroke-width="2.6" stroke-linecap="round"/>
<polygon points="502.8,1040.4 525.5,1029.5 548.1,1040.4 548.1,1068.1 525.5,1080.7 502.8,1068.1" fill="none" stroke="#222" stroke-width="2.6" stroke-linejoin="round"/>
<line x1="526.8" y1="1036.2" x2="541.3" y2="1043.2" stroke="#222" stroke-width="2.6" stroke-linecap="round"/>
<line x1="541.3" y1="1065.6" x2="526.8" y2="1073.7" stroke="#222" stroke-width="2.6" stroke-linecap="round"/>
<line x1="508.3" y1="1063.2" x2="508.3" y2="1045.5" stroke="#222" stroke-width="2.6" stroke-linecap="round"/>
<line x1="548.1" y1="1040.4" x2="571.6" y2="1033.7" stroke="#222" stroke-width="2.6" stroke-linecap="round"/>
<line x1="548.1" y1="1068.1" x2="571.6" y2="1075.6" stroke="#222" stroke-width="2.6" stroke-linecap="round"/>
<line x1="571.6" y1="1033.7" x2="580.7" y2="1047.8" stroke="#222" stroke-width="2.6" stroke-linecap="round"/>
<line x1="571.6" y1="1075.6" x2="580.7" y2="1061.3" stroke="#222" stroke-width="2.6" stroke-linecap="round"/>
<text x="585" y="1062.6" font-family="'Liberation Sans', Arial, sans-serif" font-size="22.5" font-weight="bold" fill="#222" text-anchor="middle" stroke="#222" stroke-width="0.4">N</text>
<text x="578.3" y="1015.8" font-family="'Liberation Sans', Arial, sans-serif" font-size="22.5" font-weight="bold" fill="#222" text-anchor="middle" stroke="#222" stroke-width="0.4">O</text>
<text x="578.3" y="1108.1" font-family="'Liberation Sans', Arial, sans-serif" font-size="22.5" font-weight="bold" fill="#222" text-anchor="middle" stroke="#222" stroke-width="0.4">O</text>
<line x1="574.1" y1="1034.3" x2="578.3" y2="1018" stroke="#222" stroke-width="2.6" stroke-linecap="round"/>
<line x1="569.1" y1="1033.1" x2="573.3" y2="1016.7" stroke="#222" stroke-width="2.6" stroke-linecap="round"/>
<line x1="569.1" y1="1076.3" x2="573.1" y2="1091" stroke="#222" stroke-width="2.6" stroke-linecap="round"/>
<line x1="574.1" y1="1074.9" x2="578.2" y2="1089.7" stroke="#222" stroke-width="2.6" stroke-linecap="round"/>
<line x1="593" y1="1054" x2="636.1" y2="1054" stroke="#222" stroke-width="2.6"/>
<polyline points="591.7,997.6 599.3,997.6 599.3,1127.7 591.7,1127.7" fill="none" stroke="#222" stroke-width="2.6" stroke-linejoin="round"/>
<text x="601.5" y="1137.5" font-family="'Liberation Serif', 'Times New Roman', serif" font-size="11" font-weight="bold" fill="#222" text-anchor="start">3n</text>
<polyline points="626.8,998.5 620.1,998.5 620.1,1128.5 626.8,1128.5" fill="none" stroke="#222" stroke-width="2.6" stroke-linejoin="round"/>
<polygon points="636.1,1053.8 647.8,1030.3 677.2,1030.3 687.2,1053.8 677.2,1078.2 647.8,1078.2" fill="none" stroke="#222" stroke-width="2.6" stroke-linejoin="round"/>
<line x1="653" y1="1035.8" x2="671.8" y2="1035.8" stroke="#222" stroke-width="2.6" stroke-linecap="round"/>
<line x1="680.7" y1="1055.4" x2="674.3" y2="1071" stroke="#222" stroke-width="2.6" stroke-linecap="round"/>
<line x1="650.4" y1="1071" x2="642.9" y2="1055.4" stroke="#222" stroke-width="2.6" stroke-linecap="round"/>
<line x1="687.2" y1="1053.8" x2="707" y2="1053.8" stroke="#222" stroke-width="2.6"/>
<text x="715" y="1062" font-family="'Liberation Sans', Arial, sans-serif" font-size="23" font-weight="bold" fill="#1f8a1f" text-anchor="middle">S</text>
<line x1="723" y1="1053.8" x2="741.8" y2="1053.8" stroke="#222" stroke-width="2.6"/>
<line x1="712" y1="1031.2" x2="712" y2="1040.4" stroke="#1f8a1f" stroke-width="2.2"/>
<line x1="712" y1="1067.2" x2="712" y2="1077.3" stroke="#1f8a1f" stroke-width="2.2"/>
<line x1="718.8" y1="1031.2" x2="718.8" y2="1040.4" stroke="#1f8a1f" stroke-width="2.2"/>
<line x1="718.8" y1="1067.2" x2="718.8" y2="1077.3" stroke="#1f8a1f" stroke-width="2.2"/>
<text x="715" y="1026" font-family="'Liberation Sans', Arial, sans-serif" font-size="23" font-weight="bold" fill="#1f8a1f" text-anchor="middle">O</text>
<text x="715" y="1098" font-family="'Liberation Sans', Arial, sans-serif" font-size="23" font-weight="bold" fill="#1f8a1f" text-anchor="middle">O</text>
<polygon points="741.8,1053.8 752.7,1030.3 782.9,1030.3 794.6,1053.8 782.9,1078.2 752.7,1078.2" fill="none" stroke="#222" stroke-width="2.6" stroke-linejoin="round"/>
<line x1="758.2" y1="1035.8" x2="777.5" y2="1035.8" stroke="#222" stroke-width="2.6" stroke-linecap="round"/>
<line x1="787.7" y1="1055.5" x2="780.2" y2="1071.1" stroke="#222" stroke-width="2.6" stroke-linecap="round"/>
<line x1="755.5" y1="1071.1" x2="748.5" y2="1055.4" stroke="#222" stroke-width="2.6" stroke-linecap="round"/>
<line x1="794.6" y1="1053.8" x2="812.5" y2="1053.8" stroke="#222" stroke-width="2.6"/>
<text x="819.8" y="1062.1" font-family="'Liberation Sans', Arial, sans-serif" font-size="22.5" font-weight="bold" fill="#222" text-anchor="middle" stroke="#222" stroke-width="0.4">N</text>
<line x1="825" y1="1048" x2="837.4" y2="1033.7" stroke="#222" stroke-width="2.6" stroke-linecap="round"/>
<line x1="825" y1="1060.1" x2="837.4" y2="1074.8" stroke="#222" stroke-width="2.6" stroke-linecap="round"/>
<line x1="837.4" y1="1033.7" x2="859.2" y2="1039.6" stroke="#222" stroke-width="2.6" stroke-linecap="round"/>
<line x1="837.4" y1="1074.8" x2="859.2" y2="1067.2" stroke="#222" stroke-width="2.6" stroke-linecap="round"/>
<text x="826.5" y="1014.9" font-family="'Liberation Sans', Arial, sans-serif" font-size="22.5" font-weight="bold" fill="#222" text-anchor="middle" stroke="#222" stroke-width="0.4">O</text>
<text x="826.5" y="1106.4" font-family="'Liberation Sans', Arial, sans-serif" font-size="22.5" font-weight="bold" fill="#222" text-anchor="middle" stroke="#222" stroke-width="0.4">O</text>
<line x1="839.8" y1="1032.7" x2="832.7" y2="1015.1" stroke="#222" stroke-width="2.6" stroke-linecap="round"/>
<line x1="835" y1="1034.7" x2="827.8" y2="1017" stroke="#222" stroke-width="2.6" stroke-linecap="round"/>
<line x1="835" y1="1073.7" x2="828.3" y2="1088.1" stroke="#222" stroke-width="2.6" stroke-linecap="round"/>
<line x1="839.8" y1="1075.9" x2="833.1" y2="1090.3" stroke="#222" stroke-width="2.6" stroke-linecap="round"/>
<polygon points="859.2,1039.6 881,1027.8 902.9,1039.6 902.9,1067.2 881,1079.8 859.2,1067.2" fill="none" stroke="#222" stroke-width="2.6" stroke-linejoin="round"/>
<line x1="882.3" y1="1034.7" x2="896.3" y2="1042.3" stroke="#222" stroke-width="2.6" stroke-linecap="round"/>
<line x1="896.3" y1="1064.6" x2="882.3" y2="1072.7" stroke="#222" stroke-width="2.6" stroke-linecap="round"/>
<line x1="864.7" y1="1062.3" x2="864.7" y2="1044.6" stroke="#222" stroke-width="2.6" stroke-linecap="round"/>
<line x1="902.9" y1="1039.6" x2="924.7" y2="1028.7" stroke="#222" stroke-width="2.6" stroke-linecap="round"/>
<line x1="927.3" y1="1028.7" x2="927.3" y2="1010.1" stroke="#222" stroke-width="2.6" stroke-linecap="round"/>
<line x1="922.1" y1="1028.7" x2="922.1" y2="1010.1" stroke="#222" stroke-width="2.6" stroke-linecap="round"/>
<text x="924.7" y="1008.2" font-family="'Liberation Sans', Arial, sans-serif" font-size="22.5" font-weight="bold" fill="#222" text-anchor="middle" stroke="#222" stroke-width="0.4">O</text>
<line x1="924.7" y1="1028.7" x2="947.3" y2="1039.6" stroke="#222" stroke-width="2.6" stroke-linecap="round"/>
<polygon points="947.3,1039.6 969.1,1027.8 991,1039.6 991,1067.2 969.1,1079.8 947.3,1067.2" fill="none" stroke="#222" stroke-width="2.6" stroke-linejoin="round"/>
<line x1="970.4" y1="1034.7" x2="984.4" y2="1042.3" stroke="#222" stroke-width="2.6" stroke-linecap="round"/>
<line x1="984.4" y1="1064.6" x2="970.4" y2="1072.7" stroke="#222" stroke-width="2.6" stroke-linecap="round"/>
<line x1="952.8" y1="1062.3" x2="952.8" y2="1044.6" stroke="#222" stroke-width="2.6" stroke-linecap="round"/>
<line x1="991" y1="1039.6" x2="1013.6" y2="1033.7" stroke="#222" stroke-width="2.6" stroke-linecap="round"/>
<line x1="991" y1="1067.2" x2="1013.6" y2="1074.8" stroke="#222" stroke-width="2.6" stroke-linecap="round"/>
<line x1="1013.6" y1="1033.7" x2="1024.6" y2="1047.7" stroke="#222" stroke-width="2.6" stroke-linecap="round"/>
<line x1="1013.6" y1="1074.8" x2="1024.6" y2="1060.4" stroke="#222" stroke-width="2.6" stroke-linecap="round"/>
<text x="1029.5" y="1062.1" font-family="'Liberation Sans', Arial, sans-serif" font-size="22.5" font-weight="bold" fill="#222" text-anchor="middle" stroke="#222" stroke-width="0.4">N</text>
<text x="1022" y="1014.9" font-family="'Liberation Sans', Arial, sans-serif" font-size="22.5" font-weight="bold" fill="#222" text-anchor="middle" stroke="#222" stroke-width="0.4">O</text>
<text x="1022" y="1106.4" font-family="'Liberation Sans', Arial, sans-serif" font-size="22.5" font-weight="bold" fill="#222" text-anchor="middle" stroke="#222" stroke-width="0.4">O</text>
<line x1="1016.1" y1="1034.5" x2="1021.5" y2="1017.1" stroke="#222" stroke-width="2.6" stroke-linecap="round"/>
<line x1="1011.1" y1="1032.9" x2="1016.5" y2="1015.6" stroke="#222" stroke-width="2.6" stroke-linecap="round"/>
<line x1="1011.2" y1="1075.7" x2="1016.2" y2="1089.8" stroke="#222" stroke-width="2.6" stroke-linecap="round"/>
<line x1="1016" y1="1073.9" x2="1021.1" y2="1088" stroke="#222" stroke-width="2.6" stroke-linecap="round"/>
<line x1="1037.5" y1="1053.8" x2="1081.5" y2="1053.8" stroke="#222" stroke-width="2.6"/>
<polyline points="1038,1001.8 1045.5,1001.8 1045.5,1125.1 1038,1125.1" fill="none" stroke="#222" stroke-width="2.6" stroke-linejoin="round"/>
<text x="1050" y="1127" font-family="'Liberation Serif', 'Times New Roman', serif" font-size="12" font-weight="bold" fill="#222" text-anchor="start">n</text>
<text x="84" y="1164.6" font-family="'Liberation Sans', Arial, sans-serif" font-size="31.3" font-weight="bold" fill="#d42a40">Trifluoromethyl group (-CF<tspan font-size="20" dy="6">3</tspan><tspan dy="-6">)</tspan></text>
<text x="648.7" y="1146.1" font-family="'Liberation Sans', Arial, sans-serif" font-size="31.2" font-weight="bold" fill="#1a7a1a">Sulfonyl group (-SO<tspan font-size="20" dy="6">2</tspan><tspan dy="-6">-)</tspan></text>
<line x1="1266.6" y1="618" x2="1266.6" y2="898" stroke="#8a8a8a" stroke-width="1.6" stroke-dasharray="2.5,1"/>
<line x1="1594.5" y1="618" x2="1594.5" y2="1022" stroke="#8a8a8a" stroke-width="1.6" stroke-dasharray="2.5,1"/>
<line x1="1606.1" y1="627" x2="1606.1" y2="1022" stroke="#8a8a8a" stroke-width="1.6" stroke-dasharray="2.5,1"/>
<line x1="1662.8" y1="608" x2="1662.8" y2="948" stroke="#8a8a8a" stroke-width="1.6" stroke-dasharray="2.5,1"/>
<line x1="1693.9" y1="639" x2="1693.9" y2="752" stroke="#8a8a8a" stroke-width="1.6" stroke-dasharray="2.5,1"/>
<line x1="1720.6" y1="626" x2="1720.6" y2="752" stroke="#8a8a8a" stroke-width="1.6" stroke-dasharray="2.5,1"/>
<path d="M1233.9,627.3 L1235.5,627.3 L1237.1,627.7 L1238.7,627.4 L1240.2,627.8 L1241.8,627.7 L1243.4,627.6 L1245,628 L1246.7,628 L1248.4,628.6 L1250.2,628.6 L1251.9,629 L1253.6,629.5 L1255.3,630 L1257,629.1 L1258.7,628.7 L1260.3,628.5 L1262,628.3 L1263.5,628 L1265,627.9 L1266.6,628.2 L1268.1,627.6 L1269.6,628.1 L1271.1,627.8 L1272.6,627.6 L1274.2,627.6 L1275.7,627.7 L1277.2,628 L1278.7,627.6 L1280.2,627.8 L1281.8,627.8 L1283.3,627.6 L1284.8,627.7 L1286.3,627.4 L1287.8,627.4 L1289.4,627.5 L1290.9,627.7 L1292.4,627.6 L1293.9,627.5 L1295.4,627.6 L1297,627.5 L1298.5,627.4 L1300,627.7 L1301.5,627.7 L1303.1,627.4 L1304.6,627.7 L1306.2,627.7 L1307.7,627.9 L1309.2,627.9 L1310.8,627.6 L1312.3,628.1 L1313.8,627.6 L1315.4,627.8 L1316.9,628.1 L1318.5,627.8 L1320,628 L1321.7,627.8 L1323.4,628.4 L1325.1,628.5 L1326.8,628.5 L1328.4,629.1 L1330,629.1 L1331.6,629.7 L1333.2,630.1 L1334.9,630.4 L1336.5,630.7 L1338.1,631.3 L1339.7,631.8 L1341.2,630.9 L1342.7,630.5 L1344.2,629.5 L1345.8,629.3 L1347.3,628.7 L1348.8,628.4 L1350.3,627.7 L1351.9,627.6 L1353.5,627.9 L1355.2,628.4 L1356.8,628.2 L1358.4,628.7 L1360,628.8 L1361.8,629.8 L1363.7,630.7 L1365.6,632.2 L1367.4,632.8 L1368.9,632 L1370.5,631.3 L1372,630.7 L1373.5,630.4 L1375,630.7 L1376.6,630.9 L1378.1,631.2 L1379.8,630.5 L1381.5,629.8 L1383.3,628.8 L1385,628.1 L1386.7,627.4 L1388.2,627.7 L1389.7,627.8 L1391.2,627.3 L1392.7,627.3 L1394.2,627.3 L1395.7,627.3 L1397.2,627.5 L1398.8,627.5 L1400.3,627.3 L1401.8,627.2 L1403.3,627.4 L1404.8,627.4 L1406.3,627.5 L1407.8,627.7 L1409.3,627.6 L1410.8,627.5 L1412.3,627.5 L1413.8,627.6 L1415.3,627.2 L1416.8,627.7 L1418.3,627.6 L1419.9,627.7 L1421.4,627.6 L1422.9,627.4 L1424.4,627.4 L1425.9,627.2 L1427.4,627.5 L1428.9,627.2 L1430.4,627.2 L1431.9,627.3 L1433.4,627.2 L1434.9,627.3 L1436.4,627.2 L1437.9,627.1 L1439.5,627.2 L1441,627.2 L1442.5,627.3 L1444,627.1 L1445.5,627.6 L1447,627.5 L1448.5,627.2 L1450,627.3 L1451.5,627.3 L1453,627.3 L1454.5,627.2 L1456,627.6 L1457.6,627.7 L1459.1,627.4 L1460.6,627.4 L1462.1,627.2 L1463.6,627.2 L1465.1,627.4 L1466.6,627.3 L1468.1,627.7 L1469.6,627.3 L1471.2,627.2 L1472.7,627.8 L1474.2,627.5 L1475.7,627.3 L1477.2,627.5 L1478.7,627.2 L1480.2,627.5 L1481.7,627.8 L1483.2,627.8 L1484.8,627.7 L1486.3,627.4 L1487.8,627.5 L1489.3,627.4 L1490.8,627.7 L1492.3,627.6 L1493.8,627.8 L1495.3,627.5 L1496.8,627.4 L1498.3,627.8 L1499.9,627.9 L1501.4,627.8 L1502.9,627.8 L1504.4,627.8 L1505.9,627.8 L1507.4,627.5 L1508.9,627.7 L1510.4,627.6 L1511.9,627.4 L1513.5,627.4 L1515,627.5 L1516.5,627.5 L1518,627.8 L1519.5,628 L1521,627.7 L1522.5,628 L1524,628 L1525.5,628 L1527.1,627.7 L1528.6,627.6 L1530.1,627.6 L1531.6,627.6 L1533.1,627.6 L1534.6,627.8 L1536.1,628 L1537.6,628 L1539.1,627.8 L1540.7,627.9 L1542.2,628 L1543.7,627.6 L1545.2,627.9 L1546.7,628.1 L1548.2,628 L1549.7,628 L1551.2,627.8 L1552.7,627.7 L1554.2,628 L1555.8,627.8 L1557.3,628 L1558.8,628.2 L1560.3,627.8 L1561.8,627.8 L1563.3,628.2 L1564.8,628 L1566.3,627.7 L1567.8,627.7 L1569.4,627.7 L1570.9,628.2 L1572.4,628.1 L1573.9,627.7 L1575.4,628.1 L1576.9,628.2 L1578.4,628 L1579.9,627.9 L1581.4,628 L1583,627.8 L1584.5,627.7 L1586,628.3 L1587.5,628.1 L1589,628 L1590.5,630.3 L1592,632 L1594.5,642.7 L1597,630.2 L1598.5,630.3 L1600,630.9 L1601.5,640.4 L1603,649.8 L1605.4,728.8 L1607,709.2 L1608.5,690 L1611,659.8 L1613,665.2 L1614.7,674.4 L1616.3,684 L1619,675.1 L1621,650.2 L1622.5,646.2 L1624,642.8 L1626,641.8 L1628,641 L1629.6,640.7 L1631.1,640 L1632.7,640 L1634.3,635.8 L1636,631.7 L1637.8,631 L1639.6,629.4 L1641.4,628.4 L1642.9,628.7 L1644.5,628.8 L1646,628.9 L1648,632 L1650.2,673.3 L1652.3,714.7 L1655,679.8 L1657.8,633.8 L1660,639.8 L1662.8,658.8 L1664.5,640.2 L1666.5,633.8 L1668.2,636.9 L1670,640.2 L1671.7,649.1 L1673.5,657.6 L1675.2,666.6 L1677.1,658.3 L1679,650 L1681,642.6 L1682.9,634.9 L1684.6,646.4 L1686.2,657.8 L1688.3,653.2 L1690.5,648.1 L1692.2,651.7 L1694,655.3 L1696.1,654.1 L1698.2,653.4 L1700.3,674.4 L1702.5,695.1 L1704.7,678.3 L1706.9,662 L1708.5,661.1 L1710,659.7 L1711.5,656.2 L1713,652.4 L1714.5,649.1 L1716.2,654.7 L1718,660.2 L1720,671.8 L1722.1,684.1 L1724,678.1 L1726,671.8 L1727.9,674.4 L1729.8,676.6 L1731.4,669 L1733,662.3 L1734.5,665.9 L1736,670 L1738.5,678.8 L1740.2,657.4 L1741.8,635.8 L1743.5,634.9 L1745.3,633.8 L1747,632.6 L1748.8,631.4 L1750.5,630.4 L1752.2,630 L1754,628.9 L1755.7,628.6 L1757.5,627.9 L1759.2,627 L1761,628.3 L1762.7,629.5 L1764.5,630.5 L1766.2,631.4 L1768,633 L1770,636.5 L1772,640.3 L1773.9,641.3 L1775.9,643 L1777.8,644.4 L1779.6,642.4 L1781.4,639.7 L1783.2,637.2 L1785,635 L1786.8,633.6 L1788.5,631.9 L1790.2,629.9 L1792,628.2 L1793.6,629.5 L1795.2,630 L1796.9,630.9 L1798.5,631.4 L1800.2,635.5 L1802,640.1 L1803.5,647.8 L1805,655.3 L1807.2,646.1 L1809.4,636.1 L1811.1,636.7 L1812.7,636.9 L1814.3,637.9 L1816,637.9 L1817.6,636.5 L1819.2,634.3 L1820.9,632.3 L1822.5,630.5 L1824.1,630.5 L1825.8,629.8 L1827.4,629.5 L1829,629.4" fill="none" stroke="#188682" stroke-width="4.2" stroke-linejoin="round"/>
<path d="M1155.5,752.6 L1157,752.5 L1158.6,752.4 L1160.1,752.4 L1161.6,752.4 L1163.2,752.5 L1164.7,752.6 L1166.2,752.6 L1167.8,752.9 L1169.3,752.6 L1170.8,752.7 L1172.4,752.6 L1173.9,752.7 L1175.4,752.5 L1177,752.6 L1178.5,752.5 L1180.1,753 L1181.6,752.9 L1183.1,752.7 L1184.7,752.8 L1186.2,753.1 L1187.7,752.7 L1189.3,753.1 L1190.8,752.9 L1192.3,752.9 L1193.9,753.1 L1195.4,752.9 L1196.9,753 L1198.5,753.1 L1200,753.3 L1201.5,752.9 L1203,753.2 L1204.5,753.2 L1206,753.2 L1207.5,753.1 L1209,753.1 L1210.5,752.9 L1212,753 L1213.5,753 L1215,753.4 L1216.5,753.1 L1218,753.1 L1219.5,753.1 L1221,753.6 L1222.5,753.6 L1224,753.5 L1225.5,753.3 L1227,753.3 L1228.5,753.4 L1230,753.5 L1231.6,753.7 L1233.1,754.2 L1234.7,754.5 L1236.2,755.3 L1237.8,755.7 L1239.4,755.9 L1240.9,756.1 L1242.5,756.9 L1244,756.9 L1245.6,757.3 L1247.2,759.2 L1248.8,761.6 L1250.4,763.8 L1252,765.9 L1253.5,769.7 L1255,774 L1256.5,777.7 L1258,781.9 L1259.6,784.2 L1261.2,786.7 L1262.8,788.9 L1264.4,791.3 L1266,793.9 L1267.7,789.8 L1269.3,786.1 L1271,782 L1272.7,777.6 L1274.3,773 L1276,768.5 L1277.7,764 L1279.3,762.4 L1280.8,761 L1282.4,760 L1284,758.2 L1286.2,758 L1288.4,757.5 L1289.9,758 L1291.4,759.3 L1292.9,760.2 L1294.4,760.8 L1295.9,761.7 L1297.6,759.9 L1299.3,757.7 L1301,756 L1302.7,755 L1304.3,754.2 L1305.9,753.2 L1307.6,752.2 L1309.4,753.1 L1311.2,754.2 L1313,755.1 L1314.6,756.5 L1316.2,757.6 L1317.8,758.9 L1319.4,760.4 L1320.9,758.3 L1322.5,756 L1324,754.2 L1325.7,753 L1327.3,752.1 L1329,751.1 L1330.6,751.3 L1332.1,751.3 L1333.7,751.1 L1335.3,751.8 L1336.9,751.9 L1338.4,751.9 L1340,752 L1341.6,752.4 L1343.1,752.3 L1344.7,752.9 L1346.2,752.9 L1347.8,753.1 L1349.4,753.4 L1350.9,754 L1352.5,753.9 L1354.1,753.9 L1355.7,753.6 L1357.3,752.9 L1358.9,752.5 L1360.5,752.1 L1362.1,751.9 L1363.7,751.5 L1365.3,751.1 L1366.8,751.1 L1368.3,750.8 L1369.8,750.8 L1371.3,750.9 L1372.9,751.2 L1374.4,750.9 L1375.9,751.1 L1377.4,750.8 L1378.9,750.8 L1380.4,751 L1381.9,751.2 L1383.5,751.2 L1385,751.2 L1386.5,751 L1388,751.1 L1389.5,751.1 L1391,751.1 L1392.5,750.9 L1394,751.4 L1395.5,751 L1397.1,751.5 L1398.6,751.5 L1400.1,750.9 L1401.6,751.2 L1403.1,751.4 L1404.6,751.5 L1406.1,751.2 L1407.7,751.1 L1409.2,751.1 L1410.7,751.5 L1412.2,751.1 L1413.7,751.3 L1415.2,751.1 L1416.7,751.3 L1418.2,751.6 L1419.8,751.1 L1421.3,751.5 L1422.8,751.3 L1424.3,751.6 L1425.8,751.5 L1427.3,751.2 L1428.8,751.6 L1430.3,751.4 L1431.8,751.1 L1433.4,751.1 L1434.9,751.4 L1436.4,751.4 L1437.9,751.3 L1439.4,751.2 L1440.9,751.4 L1442.4,751.3 L1444,751.7 L1445.5,751.2 L1447,751.6 L1448.5,751.7 L1450,751.3 L1451.5,751.8 L1453,751.7 L1454.5,751.8 L1456,751.4 L1457.5,751.5 L1459,751.5 L1460.5,751.9 L1462,751.7 L1463.5,751.6 L1465,751.6 L1466.5,751.5 L1468,751.4 L1469.5,751.5 L1471,751.9 L1472.5,751.6 L1474,752 L1475.5,751.6 L1477,751.6 L1478.5,751.8 L1480,751.6 L1481.5,751.7 L1483,752.1 L1484.5,752.1 L1486,752.1 L1487.5,752 L1489,752.2 L1490.5,752.2 L1492,752 L1493.5,752.1 L1495,751.7 L1496.5,752.1 L1498,752 L1499.5,752.2 L1501,752.1 L1502.5,751.9 L1504,751.8 L1505.5,752.3 L1507,751.9 L1508.5,752.1 L1510,752 L1511.5,752 L1513,752.3 L1514.5,752.5 L1516,752 L1517.5,752.3 L1519,752.1 L1520.5,752.3 L1522,752.2 L1523.6,752.1 L1525.1,752.1 L1526.6,752.1 L1528.1,752.5 L1529.6,752.3 L1531.1,752.2 L1532.6,752.6 L1534.1,752.7 L1535.6,752.4 L1537.1,752.2 L1538.6,752.2 L1540.1,752.2 L1541.6,752.3 L1543.1,752.2 L1544.6,752.3 L1546.1,752.3 L1547.6,752.5 L1549.1,752.8 L1550.6,752.7 L1552.1,752.5 L1553.6,752.5 L1555.1,752.6 L1556.6,752.5 L1558.1,752.5 L1559.6,752.4 L1561.1,752.5 L1562.6,752.9 L1564.1,752.5 L1565.6,752.7 L1567.1,752.8 L1568.6,752.9 L1570.1,752.6 L1571.6,752.6 L1573.1,752.6 L1574.6,752.7 L1576.1,752.8 L1577.6,753.1 L1579.1,753 L1580.6,753.1 L1582.1,752.6 L1583.6,752.6 L1585.1,753 L1586.6,753.1 L1588.1,752.9 L1589.6,753 L1591.1,752.7 L1592.6,752.9 L1594.1,753.2 L1595.6,753.2 L1597.3,753.2 L1599.1,753.3 L1600.8,752.8 L1602.6,752.8 L1604.3,752.8 L1606.1,756.7 L1608,760.4 L1609.8,764.3 L1611.9,761.1 L1614,758.1 L1615.7,755.2 L1617.4,752 L1619.5,770 L1621.8,792.1 L1623.4,780.6 L1625,768.2 L1626.7,772 L1628.3,775.1 L1630.2,787.4 L1632,799.8 L1634,813.5 L1636,827.4 L1638,816.3 L1640,804.8 L1642.5,779 L1644.2,770.7 L1646,762 L1648,756.3 L1649.6,756 L1651.2,755.9 L1652.9,755.3 L1654.5,755.2 L1656.7,758.5 L1658.9,762.1 L1660.5,771 L1662,780.2 L1663.5,791 L1665,801.8 L1666.5,812.8 L1669,790.3 L1670.5,777.1 L1672,763.9 L1673.6,760.7 L1675.2,758 L1676.9,755.1 L1678.5,752 L1680.1,752.2 L1681.6,752.7 L1683.2,753.2 L1684.7,753.1 L1686.3,753.3 L1687.8,753.8 L1689.4,754.2 L1691.6,764.1 L1693.8,773.6 L1696,763.6 L1698.2,753.1 L1699.8,753.2 L1701.4,753.2 L1702.9,753.9 L1704.5,753.7 L1706.1,754.2 L1707.7,754.1 L1709.3,754.3 L1710.9,754.8 L1712.4,754.8 L1714,755.4 L1715.6,755.3 L1717.8,768.7 L1720,782.3 L1722.2,772.1 L1724.3,761.9 L1726.5,763.7 L1728.7,764.8 L1730.8,758.9 L1733,752.8 L1734.8,753.8 L1736.5,753.8 L1738.2,754.2 L1740,754.7 L1741.5,755.8 L1743,757 L1744.6,757.9 L1746.1,758.6 L1748.3,755.5 L1750.5,752.3 L1752,752 L1753.6,751.9 L1755.1,752.4 L1756.7,752.4 L1758.2,752 L1759.7,752.5 L1761.3,752.3 L1762.8,752.4 L1764.4,752.4 L1765.9,752.4 L1767.5,752.3 L1769,752.6 L1770.5,752.7 L1772.1,753.1 L1773.6,752.7 L1775.2,753.2 L1776.7,752.8 L1778.3,757 L1780,761.4 L1781.6,765.6 L1783.2,769.5 L1784.8,767 L1786.5,765.1 L1788.2,762.8 L1789.8,761 L1791.3,759.7 L1792.8,759.1 L1794.4,758.6 L1795.9,757.3 L1797.4,756.8 L1798.9,756.3 L1800.4,755.5 L1802,754.3 L1803.5,753.5 L1805,752.7 L1807.2,757.1 L1809.4,760.6 L1811.6,756.5 L1813.8,752.2 L1815.6,759.2 L1817.4,766.4 L1819.2,774.1 L1821,767.3 L1822.9,760.6 L1824.7,754.3 L1826.3,753.5 L1828,753 L1829.6,752.3 L1831.2,752.2 L1832.7,757.7 L1834.3,763 L1835.8,768.6 L1837.4,773.6 L1838.9,779.1 L1840.7,775 L1842.5,770.9 L1844.2,766.6 L1846,761.9 L1847.6,760 L1849.3,758.2 L1850.9,756.4 L1852.5,755.6 L1854.2,754 L1855.8,753.3 L1857.4,752.1 L1859.1,752.2 L1860.8,752.2 L1862.6,752.1 L1864.3,751.9 L1866,752" fill="none" stroke="#0a14f0" stroke-width="4.0" stroke-linejoin="round"/>
<path d="M1155.5,876.1 L1157.1,876.6 L1158.7,877.3 L1160.2,876.2 L1161.8,877.1 L1163.4,879.6 L1165,878.2 L1166.6,878.1 L1168.2,878.4 L1169.7,880.8 L1171.3,880.5 L1172.9,883.3 L1174.5,883.3 L1176,884 L1177.6,881.7 L1179.1,881.3 L1180.7,881.7 L1182.2,883.4 L1183.8,884.5 L1185.3,883.9 L1186.9,883.4 L1188.4,884.4 L1190,885.4 L1191.5,886 L1193.1,886.7 L1194.6,887.5 L1196.2,887.2 L1197.7,885.7 L1199.2,888.7 L1200.8,887.1 L1202.3,888.5 L1203.8,888.2 L1205.4,889.9 L1206.9,888.4 L1208.5,889 L1210,889.4 L1211.7,888.3 L1213.3,890.2 L1215,888.4 L1216.7,886.8 L1218.3,886.3 L1220,887.8 L1221.6,884.7 L1223.2,882.5 L1224.8,883.3 L1226.4,881.4 L1228,881.4 L1229.6,876.9 L1231.2,878.3 L1232.8,879.6 L1234.3,879.8 L1235.9,880.2 L1237.5,877.1 L1239.1,878.2 L1240.7,877.6 L1242.3,878 L1243.8,880.9 L1245.4,879.6 L1247,880.9 L1248.6,881.3 L1250.1,884.3 L1251.7,886.4 L1253.3,888.7 L1254.9,891.3 L1256.4,893.7 L1258,895.6 L1259.7,896.9 L1261.5,898 L1263.2,898.9 L1265,900.1 L1266.7,901 L1268.4,897.1 L1270.2,893.2 L1271.9,889.5 L1273.7,885.6 L1275.4,881.5 L1277.1,880.3 L1278.9,879.4 L1280.6,878.4 L1282.4,877.1 L1284.1,876.1 L1285.6,877.4 L1287.1,879 L1288.6,880.3 L1290.1,881.4 L1291.6,882.8 L1293.1,884.2 L1294.6,885.7 L1296.1,887.1 L1297.6,885.6 L1299.1,884.4 L1300.6,883.4 L1302.1,882.1 L1303.6,880.8 L1305.1,879.6 L1306.6,878.7 L1308.1,877.1 L1309.7,878.5 L1311.2,879.6 L1312.8,880.9 L1314.3,882.4 L1315.9,883.7 L1317.4,884.7 L1319,885.8 L1320.6,884.7 L1322.1,883.1 L1323.7,881.6 L1325.2,880.6 L1326.8,879 L1328.3,877.8 L1329.9,876.2 L1331.5,876.4 L1333.1,876.2 L1334.7,876 L1336.3,876 L1337.9,876.2 L1339.4,876.3 L1341,876.4 L1342.6,876 L1344.2,876.3 L1345.8,876.1 L1347.4,876.2 L1349.2,878.6 L1351,881.2 L1352.8,883.8 L1354.6,882.2 L1356.5,879.9 L1358.3,878.3 L1359.9,879 L1361.5,879.6 L1363.2,879.8 L1364.8,880.3 L1367,878.6 L1369.2,876.4 L1370.7,876.2 L1372.2,876 L1373.7,876.4 L1375.2,876.2 L1376.7,876.4 L1378.2,876.3 L1379.7,876.4 L1381.2,876.1 L1382.7,876.4 L1384.2,876.1 L1385.7,876.2 L1387.2,876.4 L1388.7,876.4 L1390.2,876.1 L1391.8,876.1 L1393.3,876.2 L1394.8,876.3 L1396.3,876.2 L1397.8,876.1 L1399.3,876.1 L1400.8,876.4 L1402.3,876.5 L1403.8,876 L1405.3,876.3 L1406.8,876.4 L1408.3,876.1 L1409.8,876.5 L1411.3,876.1 L1412.8,876.3 L1414.3,876.3 L1415.8,876.4 L1417.3,876.2 L1418.8,876.3 L1420.3,876.4 L1421.8,876.3 L1423.3,876.4 L1424.8,876.3 L1426.3,876.3 L1427.8,876.1 L1429.3,876.4 L1430.8,876.3 L1432.3,876.2 L1433.8,876.5 L1435.4,876.5 L1436.9,876.3 L1438.4,876.2 L1439.9,876.3 L1441.4,876.2 L1442.9,876.2 L1444.4,876.3 L1445.9,876.2 L1447.4,876.4 L1448.9,876.4 L1450.4,876.2 L1451.9,876.5 L1453.4,876.2 L1454.9,876.5 L1456.4,876.5 L1457.9,876.4 L1459.4,876.2 L1460.9,876.4 L1462.4,876.4 L1463.9,876.6 L1465.4,876.2 L1466.9,876.6 L1468.4,876.7 L1469.9,876.5 L1471.4,876.6 L1472.9,876.3 L1474.4,876.7 L1475.9,876.4 L1477.4,876.7 L1479,876.7 L1480.5,876 L1482,876.8 L1483.5,877 L1485,875.9 L1486.5,876.3 L1488,876.8 L1489.5,876 L1491,877.1 L1492.5,876.1 L1494,877 L1495.5,875.9 L1497,876.5 L1498.5,877.2 L1500,876 L1501.5,876.1 L1503,876.6 L1504.5,876.3 L1506,875.8 L1507.5,876.1 L1509.1,876.1 L1510.6,877.8 L1512.1,877.3 L1513.6,877.8 L1515.1,876.3 L1516.6,877.7 L1518.1,876.3 L1519.6,877.3 L1521.1,877.6 L1522.6,877 L1524.1,878.2 L1525.6,877.5 L1527.2,877.6 L1528.7,878.5 L1530.2,876.5 L1531.7,878.9 L1533.2,878 L1534.7,877.4 L1536.2,878.6 L1537.7,877.2 L1539.2,879.3 L1540.7,878.1 L1542.2,877.6 L1543.7,878.8 L1545.3,877.9 L1546.8,877.1 L1548.3,878.9 L1549.8,876.8 L1551.3,879.3 L1552.8,877.5 L1554.3,878.8 L1555.8,880 L1557.3,878.8 L1558.8,879.1 L1560.3,878 L1561.8,876.9 L1563.4,877.1 L1564.9,877.5 L1566.4,879.2 L1567.9,878.6 L1569.4,879 L1570.9,880.4 L1572.4,877.6 L1573.9,878 L1575.4,879.7 L1576.9,877.3 L1578.4,877.3 L1579.9,878.7 L1581.5,877.8 L1583,878.8 L1584.5,878.3 L1586,879.8 L1587.5,879.9 L1589,877.5 L1590.5,881.7 L1592,881.9 L1593.5,880.7 L1595,887.6 L1596.5,884 L1598,884.5 L1599.7,885.3 L1601.4,890.2 L1603.1,893 L1604.8,893.5 L1606.5,892 L1608.3,888.5 L1610.2,884.1 L1612,886 L1613.6,883 L1615.2,879.1 L1616.9,878.7 L1618.5,874.9 L1620.2,895.8 L1621.8,911.8 L1624,907.9 L1626.2,906 L1628.1,917.7 L1630,930 L1631.5,943 L1633,955.9 L1634.5,968.9 L1636,982.2 L1638,965.8 L1640,950 L1642.5,914.7 L1644.3,902.7 L1646.2,891.1 L1648,879.7 L1649.6,882.9 L1651.2,886.9 L1652.9,891 L1654.5,891.1 L1656.3,906.3 L1658.2,920.8 L1660,936.1 L1661.6,941.4 L1663.2,946.3 L1664.9,951.2 L1666.5,955.8 L1669,930.2 L1670.5,911.5 L1672,892.7 L1673.6,889.5 L1675.2,886.1 L1676.9,882.7 L1678.5,879.4 L1680.1,879 L1681.6,878.4 L1683.2,878.1 L1684.7,877.8 L1686.3,877.3 L1687.8,876.9 L1689.4,876.4 L1691,876.2 L1692.6,876.3 L1694.2,876.3 L1695.8,876.4 L1697.4,876.3 L1698.9,876.2 L1700.5,876.4 L1702.1,876.5 L1703.7,876.2 L1705.3,876.5 L1706.9,876.1 L1708.4,877.6 L1710,879 L1711.5,880.7 L1713,882.2 L1714.8,882.9 L1716.5,883.4 L1718.2,884.4 L1720,884.9 L1721.5,883.6 L1723,882.7 L1724.5,881.3 L1726,880.1 L1727.8,879.4 L1729.5,878.9 L1731.2,878 L1733,877.6 L1734.5,881.3 L1736,886.4 L1737.8,886.4 L1739.6,889.2 L1741.3,884.4 L1743,879.2 L1744.5,885.2 L1746.1,893.2 L1748.3,883.8 L1750.5,875.5 L1752.1,875.4 L1753.7,875.6 L1755.2,876 L1756.8,876.6 L1758.4,876.6 L1760,876.8 L1761.8,881.9 L1763.6,887.1 L1765.8,881.4 L1768,875.4 L1769.7,875.8 L1771.3,876.3 L1773,876.4 L1774.7,877.1 L1776.3,877.5 L1778,878.2 L1779.7,880 L1781.4,881.9 L1783.1,883.4 L1784.8,885.6 L1786.5,887.5 L1788.2,886.1 L1789.9,884.2 L1791.6,882.8 L1793.3,881.3 L1795,879.8 L1796.5,879.7 L1798,879.2 L1799.6,878.7 L1801.1,878.3 L1802.6,877.8 L1804.2,877.1 L1805.7,876.6 L1807.2,876.1 L1808.9,877.9 L1810.6,879 L1812.3,880.5 L1814,882 L1816,896.9 L1818.1,912.2 L1821,894.9 L1822.8,888.5 L1824.7,881.7 L1826.4,882.4 L1828,883.3 L1829.7,883.7 L1831.3,884.5 L1833,885.1 L1834.5,885.7 L1836,886.8 L1837.5,887.7 L1839.1,888.8 L1840.6,889.5 L1842.1,890.6 L1843.9,888.8 L1845.6,886.9 L1847.4,885.5 L1849.1,883.3 L1850.9,882 L1852.7,880.9 L1854.5,880.2 L1856.2,879.6 L1858,879.1 L1859.6,878.7 L1861.2,877.7 L1862.8,877.4 L1864.4,876.8 L1866,876.3" fill="none" stroke="#ff1010" stroke-width="3.6" stroke-linejoin="round"/>
<path d="M1155.5,999.5 L1157.1,999.4 L1158.6,999.7 L1160.2,999.8 L1161.7,1000.2 L1163.3,1000 L1164.8,1000.5 L1166.4,1000.4 L1167.9,1000.5 L1169.5,1000.9 L1171,1000.9 L1172.6,1000.9 L1174.1,1001.3 L1175.7,1001.2 L1177.2,1001.7 L1178.8,1001.8 L1180.3,1002 L1181.9,1002.1 L1183.4,1002.1 L1185,1002.2 L1186.5,1002.4 L1188.1,1002.8 L1189.6,1002.9 L1191.2,1003.8 L1192.7,1003.8 L1194.2,1004.4 L1195.8,1004.9 L1197.3,1005.7 L1198.9,1006 L1200.4,1006.5 L1201.9,1007.2 L1203.5,1007.4 L1205,1008 L1206.5,1008.4 L1208,1008.9 L1209.6,1009.3 L1211.1,1009.6 L1212.6,1009.8 L1214.1,1010.2 L1215.7,1010.5 L1217.2,1011.2 L1218.7,1011.5 L1220.3,1010.7 L1221.9,1009.7 L1223.5,1009.1 L1225.2,1008.5 L1226.8,1007.6 L1228.4,1006.6 L1230,1006 L1231.5,1006.6 L1233,1003.5 L1234.5,1002.5 L1236,1002.1 L1237.5,1002.8 L1239,1002.5 L1240.5,999.3 L1242.1,999.1 L1243.8,999.3 L1245.4,999.5 L1247,1000 L1248.7,998.6 L1250.3,999.1 L1252,998.4 L1253.6,1001.1 L1255.8,1004.5 L1258,1006.6 L1260.1,1012 L1262.3,1007.8 L1264.5,1007.7 L1266.7,1005.5 L1268.8,1000.5 L1270.5,1000.9 L1272.1,1002.1 L1273.8,1003.3 L1275.4,1004.9 L1277.2,1009.7 L1279,1014.9 L1280.8,1020 L1282.6,1014.8 L1284.5,1009.8 L1286.3,1004.9 L1287.9,1004.1 L1289.4,1003.3 L1291,1002.6 L1292.5,1001.7 L1294.1,1000.8 L1295.6,1000.2 L1297.2,999.4 L1298.8,1000.3 L1300.3,1001.1 L1301.9,1001.7 L1303.4,1002.5 L1305,1003.4 L1306.5,1004 L1308.1,1004.7 L1309.7,1004.1 L1311.4,1003.4 L1313,1002.5 L1314.7,1001.7 L1316.3,1000.9 L1317.9,1000 L1319.6,999.2 L1321.2,998.3 L1322.7,998.6 L1324.2,999.2 L1325.7,999.3 L1327.2,999.9 L1328.7,1000.5 L1330.2,1000.9 L1331.8,1001.3 L1333.3,1001.5 L1334.8,1002 L1336.3,1002.4 L1337.8,1002.9 L1339.3,1003.2 L1340.8,1003.8 L1342.4,1003.8 L1343.9,1003.2 L1345.5,1003.3 L1347,1003.2 L1348.6,1002.9 L1350.1,1002.8 L1351.7,1002.9 L1353.3,1002.3 L1354.8,1002.4 L1356.4,1002 L1357.9,1002.2 L1359.5,1002.1 L1361,1001.8 L1362.6,1001.4 L1364.2,1001.5 L1365.7,1001.3 L1367.3,1001.2 L1368.8,1001 L1370.4,1000.9 L1371.9,1000.8 L1373.5,1000.5 L1375.1,1000.3 L1376.6,1000.4 L1378.2,999.9 L1379.7,1000 L1381.3,999.7 L1382.8,999.7 L1384.4,999.2 L1385.9,999.6 L1387.4,999.3 L1389,999.1 L1390.5,999.2 L1392,999.3 L1393.5,999.1 L1395,999.3 L1396.5,999.3 L1398.1,999.4 L1399.6,999.2 L1401.1,999.2 L1402.6,999.1 L1404.1,999.4 L1405.6,999.5 L1407.2,999.2 L1408.7,999.1 L1410.2,999.4 L1411.7,999.1 L1413.2,999 L1414.7,999 L1416.3,999.3 L1417.8,999.3 L1419.3,999.2 L1420.8,999.1 L1422.3,999.2 L1423.9,999 L1425.4,999.3 L1426.9,999 L1428.4,999.1 L1429.9,999.2 L1431.4,999.2 L1433,999 L1434.5,998.9 L1436,999 L1437.5,998.8 L1439,999.2 L1440.5,998.9 L1442.1,999.2 L1443.6,998.9 L1445.1,998.9 L1446.6,998.8 L1448.1,998.9 L1449.7,998.8 L1451.2,998.7 L1452.7,999 L1454.2,998.8 L1455.7,998.8 L1457.2,998.8 L1458.8,998.8 L1460.3,998.8 L1461.8,998.9 L1463.3,998.9 L1464.8,998.7 L1466.3,999 L1467.9,999 L1469.4,998.6 L1470.9,998.9 L1472.4,999 L1473.9,998.9 L1475.4,998.6 L1477,998.9 L1478.5,998.8 L1480,998.5 L1481.5,998.5 L1483.1,999 L1484.6,998.9 L1486.1,998.7 L1487.7,998.6 L1489.2,998.7 L1490.7,998.8 L1492.3,999.1 L1493.8,998.9 L1495.3,998.8 L1496.8,999.2 L1498.4,999.2 L1499.9,998.9 L1501.4,999.3 L1503,999.2 L1504.5,999.3 L1506,999.2 L1507.6,999.4 L1509.1,999.4 L1510.6,999.4 L1512.2,999.1 L1513.7,999.4 L1515.2,999.3 L1516.8,999.5 L1518.3,999.3 L1519.8,999.6 L1521.4,999.5 L1522.9,999.3 L1524.4,999.3 L1526,999.3 L1527.5,999.5 L1529,999.3 L1530.5,999.6 L1532.1,999.4 L1533.6,999.6 L1535.1,999.7 L1536.7,999.7 L1538.2,999.9 L1539.7,999.5 L1541.3,999.9 L1542.8,999.8 L1544.3,1000 L1545.8,1000.2 L1547.4,1000.4 L1548.9,1000.3 L1550.4,1000.5 L1551.9,1000.9 L1553.5,1000.6 L1555,1001 L1556.5,1001.1 L1558,1001 L1559.5,1001.4 L1561.1,1001.6 L1562.6,1001.8 L1564.1,1001.7 L1565.6,1002.2 L1567.2,1002.1 L1568.7,1002.2 L1570.2,1002.5 L1571.7,1002.2 L1573.3,1002.7 L1574.8,1002.8 L1576.3,1002.8 L1577.8,1003.3 L1579.3,1003.4 L1580.8,1003.7 L1582.3,1004 L1583.8,1004.3 L1585.3,1004.3 L1586.8,1004.7 L1588.3,1005 L1589.9,1005.3 L1591.4,1005.7 L1592.9,1005.7 L1594.4,1006.2 L1595.9,1006.3 L1597.4,1006.6 L1598.9,1006.7 L1600.4,1007.1 L1602.2,1005.2 L1604.1,1003 L1605.9,1000.9 L1607.7,998.6 L1609.3,998.8 L1611,998.9 L1612.6,999.2 L1614.3,999.4 L1615.9,999.6 L1617.6,999.4 L1619.2,999.9 L1621,1005.6 L1622.7,1011 L1624.5,1016.3 L1626.2,1023.4 L1628,1030.2 L1629.7,1037.3 L1631.4,1044.6 L1633.2,1051.5 L1634.9,1058.5 L1636.5,1043.9 L1638.1,1029.3 L1639.6,1014.5 L1641.2,999.9 L1642.8,1007.2 L1644.3,1014.5 L1645.9,1021.8 L1647.5,1029.2 L1649.6,1051.5 L1651.7,1074.2 L1653.2,1046.9 L1654.8,1019.8 L1656.9,1034.2 L1659,1048.8 L1660.5,1041.7 L1662,1035.1 L1663.5,1028.1 L1665,1021 L1666.5,1013.8 L1668,1007 L1669.5,999.9 L1671.1,1001.7 L1672.7,1003.3 L1674.2,1005.2 L1675.8,1007.1 L1677.5,1019.6 L1679.3,1032.2 L1681,1044.9 L1682.7,1034.2 L1684.5,1022.9 L1686.2,1012.3 L1687.8,1012.3 L1689.3,1012.7 L1690.9,1014.1 L1692.5,1013.6 L1694.3,1025.1 L1696,1034.2 L1697.8,1043.3 L1699.3,1030.9 L1700.9,1017.9 L1703,1043 L1705.1,1067.1 L1706.7,1041 L1708.2,1016.2 L1710.3,1023.7 L1712.4,1033.7 L1714.5,1015.6 L1716.6,1038.5 L1718.7,1061.1 L1720.8,1055.9 L1722.9,1052.7 L1724.5,1042.1 L1726.1,1035.7 L1727.6,1024.2 L1729.2,1017.6 L1730.8,1012.9 L1732.3,1009.5 L1733.9,1006.4 L1735.4,1002.8 L1737.5,1017.7 L1739.6,1032 L1741.4,1021.2 L1743.1,1010.7 L1744.9,999.9 L1746.5,1005.2 L1748,1010.4 L1750.1,1005.3 L1752.2,1000.9 L1753.8,1001.5 L1755.5,1002 L1757.1,1002.8 L1758.7,1003 L1760.4,1004 L1762,1004.4 L1763.6,1004.7 L1765.3,1005.3 L1766.9,1006.2 L1768.6,1007.3 L1770.2,1008 L1771.9,1009.1 L1773.5,1010.4 L1775.2,1011.1 L1777,1020.2 L1778.7,1028.8 L1780.5,1037.3 L1782.2,1024.9 L1784,1012.4 L1785.7,999.8 L1787.2,1000.5 L1788.7,1000.8 L1790.3,1001.7 L1791.8,1002 L1793.3,1002.7 L1794.8,1003.3 L1796.3,1003.8 L1797.8,1004.3 L1799.4,1005.1 L1800.9,1005.7 L1802.4,1006.2 L1803.9,1006.3 L1805.4,1006.3 L1806.9,1006.3 L1808.4,1006.9 L1809.9,1006.9 L1811.4,1007.1 L1812.9,1007 L1814.6,1009.6 L1816.4,1012.2 L1818.1,1014.6 L1820.2,999.9 L1822.3,1006 L1824.4,1012.3 L1826.1,1011 L1827.7,1009.3 L1829.4,1007.9 L1831,1006.4 L1832.7,1005.1 L1834.3,1003.5 L1836,1001.8 L1837.7,1001.2 L1839.3,1000.9 L1841,1000.6 L1842.6,1000.3 L1844.3,1000 L1845.9,1002.1 L1847.4,1003.8 L1849,1006.3 L1850.6,1008.4 L1852.2,1006.8 L1853.8,1005.1 L1855.3,1003.4 L1856.9,1002.1 L1858.5,1001.5 L1860.1,1000.9 L1861.7,1000.5 L1863.3,999.7 L1864.9,999 L1866.5,998.7" fill="none" stroke="#0a0a0a" stroke-width="3.8" stroke-linejoin="round"/>
<rect x="1154.8" y="566.2" width="712.2" height="525.9" fill="none" stroke="#222" stroke-width="2.6"/>
<line x1="1155.6" y1="1092.1" x2="1155.6" y2="1101.6" stroke="#222" stroke-width="2.6"/>
<text x="1155.6" y="1138.1" font-family="'Liberation Serif', 'Times New Roman', serif" font-size="27" font-weight="bold" fill="#111" text-anchor="middle">4000</text>
<line x1="1353.4" y1="1092.1" x2="1353.4" y2="1101.6" stroke="#222" stroke-width="2.6"/>
<text x="1353.4" y="1138.1" font-family="'Liberation Serif', 'Times New Roman', serif" font-size="27" font-weight="bold" fill="#111" text-anchor="middle">3000</text>
<line x1="1551.3" y1="1092.1" x2="1551.3" y2="1101.6" stroke="#222" stroke-width="2.6"/>
<text x="1551.3" y="1138.1" font-family="'Liberation Serif', 'Times New Roman', serif" font-size="27" font-weight="bold" fill="#111" text-anchor="middle">2000</text>
<line x1="1749.1" y1="1092.1" x2="1749.1" y2="1101.6" stroke="#222" stroke-width="2.6"/>
<text x="1749.1" y="1138.1" font-family="'Liberation Serif', 'Times New Roman', serif" font-size="27" font-weight="bold" fill="#111" text-anchor="middle">1000</text>
<line x1="1195.2" y1="1092.1" x2="1195.2" y2="1097.1" stroke="#222" stroke-width="2.6"/>
<line x1="1234.7" y1="1092.1" x2="1234.7" y2="1097.1" stroke="#222" stroke-width="2.6"/>
<line x1="1274.3" y1="1092.1" x2="1274.3" y2="1097.1" stroke="#222" stroke-width="2.6"/>
<line x1="1313.9" y1="1092.1" x2="1313.9" y2="1097.1" stroke="#222" stroke-width="2.6"/>
<line x1="1393" y1="1092.1" x2="1393" y2="1097.1" stroke="#222" stroke-width="2.6"/>
<line x1="1432.6" y1="1092.1" x2="1432.6" y2="1097.1" stroke="#222" stroke-width="2.6"/>
<line x1="1472.2" y1="1092.1" x2="1472.2" y2="1097.1" stroke="#222" stroke-width="2.6"/>
<line x1="1511.7" y1="1092.1" x2="1511.7" y2="1097.1" stroke="#222" stroke-width="2.6"/>
<line x1="1590.9" y1="1092.1" x2="1590.9" y2="1097.1" stroke="#222" stroke-width="2.6"/>
<line x1="1630.4" y1="1092.1" x2="1630.4" y2="1097.1" stroke="#222" stroke-width="2.6"/>
<line x1="1670" y1="1092.1" x2="1670" y2="1097.1" stroke="#222" stroke-width="2.6"/>
<line x1="1709.6" y1="1092.1" x2="1709.6" y2="1097.1" stroke="#222" stroke-width="2.6"/>
<line x1="1788.7" y1="1092.1" x2="1788.7" y2="1097.1" stroke="#222" stroke-width="2.6"/>
<line x1="1828.3" y1="1092.1" x2="1828.3" y2="1097.1" stroke="#222" stroke-width="2.6"/>
<polygon points="1266.7,604.3 1262.5,618.5 1270.9,618.5" fill="#111"/>
<line x1="1266.7" y1="617.5" x2="1266.7" y2="621.5" stroke="#111" stroke-width="1.5"/>
<polygon points="1594.5,607.6 1590.3,619.6 1598.7,619.6" fill="#111"/>
<line x1="1594.5" y1="618.6" x2="1594.5" y2="622.6" stroke="#111" stroke-width="1.5"/>
<polygon points="1606.1,615.3 1601.9,628.3 1610.3,628.3" fill="#111"/>
<line x1="1606.1" y1="627.3" x2="1606.1" y2="631.3" stroke="#111" stroke-width="1.5"/>
<polygon points="1662.8,595.6 1658.6,608.7 1667,608.7" fill="#111"/>
<line x1="1662.8" y1="607.7" x2="1662.8" y2="611.7" stroke="#111" stroke-width="1.5"/>
<polygon points="1693.8,627.3 1689.6,640.3 1698,640.3" fill="#111"/>
<line x1="1693.8" y1="639.3" x2="1693.8" y2="643.3" stroke="#111" stroke-width="1.5"/>
<polygon points="1720.6,614.2 1716.4,627.3 1724.8,627.3" fill="#111"/>
<line x1="1720.6" y1="626.3" x2="1720.6" y2="630.3" stroke="#111" stroke-width="1.5"/>
<text x="1271" y="598.9" font-family="'Liberation Serif', 'Times New Roman', serif" font-size="22" font-weight="bold" fill="#111" text-anchor="middle">3440</text>
<text x="1578" y="588" font-family="'Liberation Serif', 'Times New Roman', serif" font-size="22" font-weight="bold" fill="#111" text-anchor="middle">1782</text>
<text x="1614" y="606.5" font-family="'Liberation Serif', 'Times New Roman', serif" font-size="22" font-weight="bold" fill="#111" text-anchor="middle">1723</text>
<text x="1663" y="588" font-family="'Liberation Serif', 'Times New Roman', serif" font-size="22" font-weight="bold" fill="#111" text-anchor="middle">1436</text>
<text x="1695" y="617.4" font-family="'Liberation Serif', 'Times New Roman', serif" font-size="22" font-weight="bold" fill="#111" text-anchor="middle">1278</text>
<text x="1742" y="607.6" font-family="'Liberation Serif', 'Times New Roman', serif" font-size="22" font-weight="bold" fill="#111" text-anchor="middle">1144</text>
<text x="1423.3" y="608.8" font-family="'Liberation Serif', 'Times New Roman', serif" font-size="24.5" font-weight="bold" fill="#111" text-anchor="start">SFPI</text>
<text x="1426" y="735.4" font-family="'Liberation Serif', 'Times New Roman', serif" font-size="24.5" font-weight="bold" fill="#111" text-anchor="start">DDS</text>
<text x="1413" y="852.2" font-family="'Liberation Serif', 'Times New Roman', serif" font-size="24.5" font-weight="bold" fill="#111" text-anchor="start">6FAPB</text>
<text x="1421.5" y="979.7" font-family="'Liberation Serif', 'Times New Roman', serif" font-size="24.5" font-weight="bold" fill="#111" text-anchor="start">BTDA</text>
<text transform="translate(1128,959.5) rotate(-90)" font-family="'Liberation Serif', 'Times New Roman', serif" font-size="33" font-weight="bold" fill="#111">Transmittance<tspan font-family="'Noto Serif CJK SC', serif">（%）</tspan></text>
<text x="1357.5" y="1183" font-family="'Liberation Serif', 'Times New Roman', serif" font-size="32.5" font-weight="bold" fill="#111">Wavenumbers<tspan font-family="'Noto Serif CJK SC', serif" font-size="30" dx="-5">（</tspan>cm<tspan font-size="19" dy="-14">-1</tspan><tspan dy="14" dx="2" font-family="'Noto Serif CJK SC', serif" font-size="30">）</tspan></text>
</svg>
</body></html>
